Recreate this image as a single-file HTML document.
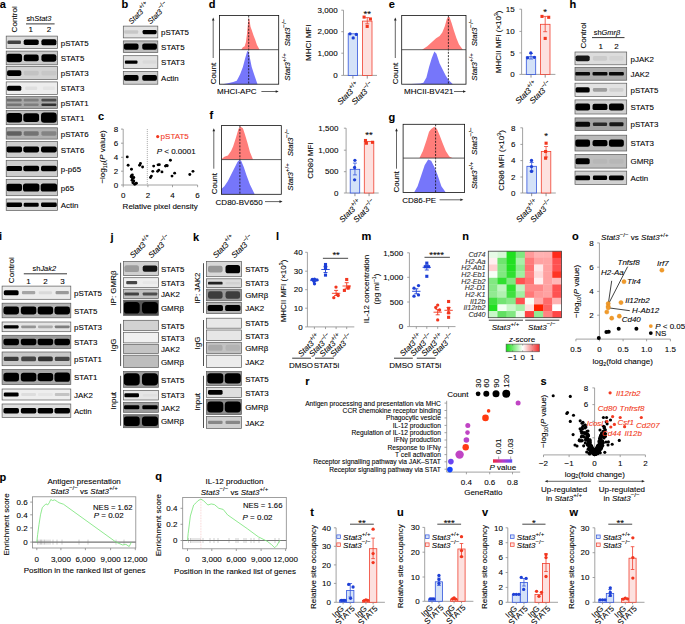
<!DOCTYPE html>
<html><head><meta charset="utf-8"><style>
html,body{margin:0;padding:0;background:#fff;width:685px;height:624px;overflow:hidden}
svg{display:block;font-family:"Liberation Sans",sans-serif}
</style></head><body>
<svg width="685" height="624" viewBox="0 0 685 624">
<defs><filter id="bl" x="-20%" y="-50%" width="140%" height="200%"><feGaussianBlur stdDeviation="0.75"/></filter>
<filter id="bl2" x="-20%" y="-50%" width="140%" height="200%"><feGaussianBlur stdDeviation="0.5"/></filter><clipPath id="c1"><rect x="6.20" y="36.10" width="51.40" height="12.40"/></clipPath><clipPath id="c2"><rect x="6.20" y="51.10" width="51.40" height="13.70"/></clipPath><clipPath id="c3"><rect x="6.20" y="66.60" width="51.40" height="13.00"/></clipPath><clipPath id="c4"><rect x="6.20" y="81.90" width="51.40" height="12.70"/></clipPath><clipPath id="c5"><rect x="6.20" y="96.60" width="51.40" height="11.90"/></clipPath><clipPath id="c6"><rect x="6.20" y="110.60" width="51.40" height="14.10"/></clipPath><clipPath id="c7"><rect x="6.20" y="127.80" width="51.40" height="11.30"/></clipPath><clipPath id="c8"><rect x="6.20" y="141.40" width="51.40" height="16.20"/></clipPath><clipPath id="c9"><rect x="6.20" y="160.30" width="51.40" height="16.40"/></clipPath><clipPath id="c10"><rect x="6.20" y="179.30" width="51.40" height="16.40"/></clipPath><clipPath id="c11"><rect x="6.20" y="199.00" width="51.40" height="11.50"/></clipPath><clipPath id="c12"><rect x="123.30" y="26.10" width="34.50" height="11.80"/></clipPath><clipPath id="c13"><rect x="123.30" y="40.90" width="34.50" height="11.60"/></clipPath><clipPath id="c14"><rect x="123.30" y="55.70" width="34.50" height="12.70"/></clipPath><clipPath id="c15"><rect x="123.30" y="71.40" width="34.50" height="12.80"/></clipPath><clipPath id="c16"><rect x="575.00" y="52.00" width="51.70" height="12.80"/></clipPath><clipPath id="c17"><rect x="575.00" y="67.30" width="51.70" height="12.90"/></clipPath><clipPath id="c18"><rect x="575.00" y="83.20" width="51.70" height="13.40"/></clipPath><clipPath id="c19"><rect x="575.00" y="99.90" width="51.70" height="14.10"/></clipPath><clipPath id="c20"><rect x="575.00" y="117.90" width="51.70" height="12.70"/></clipPath><clipPath id="c21"><rect x="575.00" y="135.20" width="51.70" height="15.80"/></clipPath><clipPath id="c22"><rect x="575.00" y="154.40" width="51.70" height="13.70"/></clipPath><clipPath id="c23"><rect x="575.00" y="171.10" width="51.70" height="13.40"/></clipPath><clipPath id="c24"><rect x="2.10" y="286.10" width="68.70" height="13.20"/></clipPath><clipPath id="c25"><rect x="2.10" y="303.20" width="68.70" height="14.60"/></clipPath><clipPath id="c26"><rect x="2.10" y="322.00" width="68.70" height="9.70"/></clipPath><clipPath id="c27"><rect x="2.10" y="335.30" width="68.70" height="13.20"/></clipPath><clipPath id="c28"><rect x="2.10" y="352.00" width="68.70" height="13.70"/></clipPath><clipPath id="c29"><rect x="2.10" y="369.60" width="68.70" height="15.00"/></clipPath><clipPath id="c30"><rect x="2.10" y="389.00" width="68.70" height="11.00"/></clipPath><clipPath id="c31"><rect x="2.10" y="404.00" width="68.70" height="13.60"/></clipPath><clipPath id="c32"><rect x="123.50" y="261.60" width="34.90" height="14.00"/></clipPath><clipPath id="c33"><rect x="123.50" y="277.70" width="34.90" height="9.90"/></clipPath><clipPath id="c34"><rect x="123.50" y="289.20" width="34.90" height="9.40"/></clipPath><clipPath id="c35"><rect x="123.50" y="300.20" width="34.90" height="15.20"/></clipPath><clipPath id="c36"><rect x="123.50" y="320.30" width="34.90" height="10.20"/></clipPath><clipPath id="c37"><rect x="123.50" y="332.30" width="34.90" height="10.60"/></clipPath><clipPath id="c38"><rect x="123.50" y="344.60" width="34.90" height="8.80"/></clipPath><clipPath id="c39"><rect x="123.50" y="355.20" width="34.90" height="12.30"/></clipPath><clipPath id="c40"><rect x="123.50" y="371.40" width="34.90" height="15.90"/></clipPath><clipPath id="c41"><rect x="123.50" y="390.40" width="34.90" height="9.60"/></clipPath><clipPath id="c42"><rect x="123.50" y="402.30" width="34.90" height="10.00"/></clipPath><clipPath id="c43"><rect x="123.50" y="414.70" width="34.90" height="13.00"/></clipPath><clipPath id="c44"><rect x="206.40" y="261.60" width="35.00" height="15.10"/></clipPath><clipPath id="c45"><rect x="206.40" y="278.80" width="35.00" height="8.80"/></clipPath><clipPath id="c46"><rect x="206.40" y="289.20" width="35.00" height="11.60"/></clipPath><clipPath id="c47"><rect x="206.40" y="302.40" width="35.00" height="11.20"/></clipPath><clipPath id="c48"><rect x="206.40" y="318.20" width="35.00" height="10.00"/></clipPath><clipPath id="c49"><rect x="206.40" y="330.00" width="35.00" height="10.60"/></clipPath><clipPath id="c50"><rect x="206.40" y="342.30" width="35.00" height="11.10"/></clipPath><clipPath id="c51"><rect x="206.40" y="355.20" width="35.00" height="12.30"/></clipPath><clipPath id="c52"><rect x="206.40" y="371.40" width="35.00" height="14.10"/></clipPath><clipPath id="c53"><rect x="206.40" y="387.30" width="35.00" height="10.20"/></clipPath><clipPath id="c54"><rect x="206.40" y="399.30" width="35.00" height="15.30"/></clipPath><clipPath id="c55"><rect x="206.40" y="416.40" width="35.00" height="12.10"/></clipPath><linearGradient id="zg"><stop offset="0" stop-color="#12dd12"/><stop offset="0.5" stop-color="#ffffff"/><stop offset="1" stop-color="#f02a2a"/></linearGradient><linearGradient id="pg"><stop offset="0" stop-color="#f02838"/><stop offset="0.5" stop-color="#b838c8"/><stop offset="1" stop-color="#5a50f8"/></linearGradient></defs>
<text x="-0.30" y="7.80" font-size="11" font-weight="bold" fill="#000" stroke="#000" stroke-width="0.1">a</text><text x="17.10" y="32.40" font-size="8.1" stroke="#1a1a1a" stroke-width="0.1" transform="rotate(-90 17.10 32.40)">Control</text><text x="26.40" y="20.80" font-size="7.4" stroke="#1a1a1a" stroke-width="0.1">sh<tspan font-style="italic">Stat3</tspan></text><line x1="26.00" y1="23.90" x2="54.60" y2="23.90" stroke="#222" stroke-width="0.9" /><text x="30.80" y="32.10" font-size="8.0" text-anchor="middle" stroke="#1a1a1a" stroke-width="0.1">1</text><text x="49.00" y="32.10" font-size="8.0" text-anchor="middle" stroke="#1a1a1a" stroke-width="0.1">2</text><rect x="6.20" y="36.10" width="51.40" height="12.40" fill="#dcdcdc" /><g clip-path="url(#c1)" filter="url(#bl)"><rect x="7.45" y="40.51" width="13.50" height="3.57" rx="1.12" fill="#000" fill-opacity="0.70"/><rect x="23.70" y="39.51" width="15.00" height="5.58" rx="1.74" fill="#000" fill-opacity="1.00"/><rect x="41.40" y="39.23" width="15.00" height="6.14" rx="1.92" fill="#000" fill-opacity="1.00"/></g><rect x="6.20" y="36.10" width="51.40" height="12.40" fill="none" stroke="#5a5a5a" stroke-width="0.7" /><text x="60.80" y="45.50" font-size="7.95" stroke="#1a1a1a" stroke-width="0.1">pSTAT5</text><rect x="6.20" y="51.10" width="51.40" height="13.70" fill="#c8c8c8" /><g clip-path="url(#c2)" filter="url(#bl)"><rect x="6.32" y="53.76" width="15.75" height="8.38" rx="2.62" fill="#000" fill-opacity="1.00"/><rect x="23.70" y="54.56" width="15.00" height="6.78" rx="2.12" fill="#000" fill-opacity="1.00"/><rect x="41.40" y="54.25" width="15.00" height="7.40" rx="2.31" fill="#000" fill-opacity="1.00"/></g><rect x="6.20" y="51.10" width="51.40" height="13.70" fill="none" stroke="#5a5a5a" stroke-width="0.7" /><text x="60.80" y="61.15" font-size="7.95" stroke="#1a1a1a" stroke-width="0.1">STAT5</text><rect x="6.20" y="66.60" width="51.40" height="13.00" fill="#d2d2d2" /><g clip-path="url(#c3)" filter="url(#bl)"><rect x="7.07" y="70.17" width="14.25" height="5.85" rx="1.83" fill="#000" fill-opacity="1.00"/><rect x="23.70" y="70.76" width="15.00" height="4.68" rx="1.46" fill="#000" fill-opacity="0.07"/><rect x="41.40" y="70.76" width="15.00" height="4.68" rx="1.46" fill="#000" fill-opacity="0.05"/></g><rect x="6.20" y="66.60" width="51.40" height="13.00" fill="none" stroke="#5a5a5a" stroke-width="0.7" /><text x="60.80" y="76.30" font-size="7.95" stroke="#1a1a1a" stroke-width="0.1">pSTAT3</text><rect x="6.20" y="81.90" width="51.40" height="12.70" fill="#ededed" /><g clip-path="url(#c4)" filter="url(#bl)"><rect x="7.07" y="85.68" width="14.25" height="5.14" rx="1.61" fill="#000" fill-opacity="1.00"/><rect x="25.20" y="86.54" width="12.00" height="3.43" rx="1.07" fill="#000" fill-opacity="0.06"/><rect x="42.90" y="86.54" width="12.00" height="3.43" rx="1.07" fill="#000" fill-opacity="0.04"/></g><rect x="6.20" y="81.90" width="51.40" height="12.70" fill="none" stroke="#5a5a5a" stroke-width="0.7" /><text x="60.80" y="91.45" font-size="7.95" stroke="#1a1a1a" stroke-width="0.1">STAT3</text><rect x="6.20" y="96.60" width="51.40" height="11.90" fill="#a8a8a8" /><g clip-path="url(#c5)" filter="url(#bl)"><rect x="6.70" y="98.86" width="15.00" height="2.62" rx="1" fill="#000" fill-opacity="0.35"/><rect x="23.70" y="98.86" width="15.00" height="2.62" rx="1" fill="#000" fill-opacity="0.25"/><rect x="41.40" y="98.86" width="15.00" height="2.62" rx="1" fill="#000" fill-opacity="0.55"/><rect x="6.70" y="103.38" width="15.00" height="2.62" rx="1" fill="#000" fill-opacity="0.30"/><rect x="23.70" y="103.38" width="15.00" height="2.62" rx="1" fill="#000" fill-opacity="0.25"/><rect x="41.40" y="103.38" width="15.00" height="2.62" rx="1" fill="#000" fill-opacity="0.70"/></g><rect x="6.20" y="96.60" width="51.40" height="11.90" fill="none" stroke="#5a5a5a" stroke-width="0.7" /><text x="60.80" y="105.75" font-size="7.95" stroke="#1a1a1a" stroke-width="0.1">pSTAT1</text><rect x="6.20" y="110.60" width="51.40" height="14.10" fill="#bdbdbd" /><g clip-path="url(#c6)" filter="url(#bl)"><rect x="6.32" y="112.89" width="15.75" height="9.52" rx="2.97" fill="#000" fill-opacity="1.00"/><rect x="23.32" y="113.21" width="15.75" height="8.88" rx="2.78" fill="#000" fill-opacity="1.00"/><rect x="41.02" y="112.57" width="15.75" height="10.15" rx="3.17" fill="#000" fill-opacity="1.00"/></g><rect x="6.20" y="110.60" width="51.40" height="14.10" fill="none" stroke="#5a5a5a" stroke-width="0.7" /><text x="60.80" y="120.85" font-size="7.95" stroke="#1a1a1a" stroke-width="0.1">STAT1</text><rect x="6.20" y="127.80" width="51.40" height="11.30" fill="#b0b0b0" /><g clip-path="url(#c7)" filter="url(#bl)"><rect x="6.70" y="131.16" width="15.00" height="4.58" rx="1.43" fill="#000" fill-opacity="0.45"/><rect x="23.70" y="131.16" width="15.00" height="4.58" rx="1.43" fill="#000" fill-opacity="0.35"/><rect x="41.40" y="131.16" width="15.00" height="4.58" rx="1.43" fill="#000" fill-opacity="0.25"/></g><rect x="6.20" y="127.80" width="51.40" height="11.30" fill="none" stroke="#5a5a5a" stroke-width="0.7" /><text x="60.80" y="136.65" font-size="7.95" stroke="#1a1a1a" stroke-width="0.1">pSTAT6</text><rect x="6.20" y="141.40" width="51.40" height="16.20" fill="#cdcdcd" /><g clip-path="url(#c8)" filter="url(#bl)"><rect x="6.32" y="146.58" width="15.75" height="5.83" rx="1.82" fill="#000" fill-opacity="1.00"/><rect x="23.32" y="146.58" width="15.75" height="5.83" rx="1.82" fill="#000" fill-opacity="1.00"/><rect x="41.02" y="146.58" width="15.75" height="5.83" rx="1.82" fill="#000" fill-opacity="1.00"/></g><rect x="6.20" y="141.40" width="51.40" height="16.20" fill="none" stroke="#5a5a5a" stroke-width="0.7" /><text x="60.80" y="152.70" font-size="7.95" stroke="#1a1a1a" stroke-width="0.1">STAT6</text><rect x="6.20" y="160.30" width="51.40" height="16.40" fill="#cdcdcd" /><g clip-path="url(#c9)" filter="url(#bl)"><rect x="6.32" y="165.92" width="15.75" height="5.17" rx="1.61" fill="#000" fill-opacity="1.00"/><rect x="23.32" y="165.70" width="15.75" height="5.61" rx="1.75" fill="#000" fill-opacity="1.00"/><rect x="41.02" y="165.84" width="15.75" height="5.31" rx="1.66" fill="#000" fill-opacity="1.00"/></g><rect x="6.20" y="160.30" width="51.40" height="16.40" fill="none" stroke="#5a5a5a" stroke-width="0.7" /><text x="60.80" y="171.70" font-size="7.95" stroke="#1a1a1a" stroke-width="0.1">p-p65</text><rect x="6.20" y="179.30" width="51.40" height="16.40" fill="#c8c8c8" /><g clip-path="url(#c10)" filter="url(#bl)"><rect x="6.32" y="183.81" width="15.75" height="7.38" rx="2.31" fill="#000" fill-opacity="1.00"/><rect x="22.95" y="183.44" width="16.50" height="8.12" rx="2.54" fill="#000" fill-opacity="1.00"/><rect x="40.65" y="183.44" width="16.50" height="8.12" rx="2.54" fill="#000" fill-opacity="1.00"/></g><rect x="6.20" y="179.30" width="51.40" height="16.40" fill="none" stroke="#5a5a5a" stroke-width="0.7" /><text x="60.80" y="190.70" font-size="7.95" stroke="#1a1a1a" stroke-width="0.1">p65</text><rect x="6.20" y="199.00" width="51.40" height="11.50" fill="#d4d4d4" /><g clip-path="url(#c11)" filter="url(#bl)"><rect x="6.32" y="202.42" width="15.75" height="4.66" rx="1.46" fill="#000" fill-opacity="1.00"/><rect x="23.70" y="202.68" width="15.00" height="4.14" rx="1.29" fill="#000" fill-opacity="1.00"/><rect x="41.02" y="202.58" width="15.75" height="4.35" rx="1.36" fill="#000" fill-opacity="1.00"/></g><rect x="6.20" y="199.00" width="51.40" height="11.50" fill="none" stroke="#5a5a5a" stroke-width="0.7" /><text x="60.80" y="207.95" font-size="7.95" stroke="#1a1a1a" stroke-width="0.1">Actin</text><text x="121.60" y="8.20" font-size="11" font-weight="bold" fill="#000" stroke="#000" stroke-width="0.1">b</text><text x="131.50" y="24.50" font-size="7.4" stroke="#1a1a1a" stroke-width="0.1" transform="rotate(-45 131.50 24.50)"><tspan font-style="italic">Stat3</tspan><tspan font-size="6.08" dy="-3.84">+/+</tspan><tspan dy="3.84"> </tspan></text><text x="150.50" y="24.50" font-size="7.4" stroke="#1a1a1a" stroke-width="0.1" transform="rotate(-45 150.50 24.50)"><tspan font-style="italic">Stat3</tspan><tspan font-size="6.08" dy="-3.84">−/−</tspan><tspan dy="3.84"> </tspan></text><rect x="123.30" y="26.10" width="34.50" height="11.80" fill="#e2e2e2" /><g clip-path="url(#c12)" filter="url(#bl)"><rect x="124.20" y="30.14" width="14.00" height="3.72" rx="1.16" fill="#000" fill-opacity="0.12"/><rect x="142.60" y="29.88" width="14.00" height="4.25" rx="1.33" fill="#000" fill-opacity="1.00"/></g><rect x="123.30" y="26.10" width="34.50" height="11.80" fill="none" stroke="#5a5a5a" stroke-width="0.7" /><text x="161.10" y="35.20" font-size="7.95" stroke="#1a1a1a" stroke-width="0.1">pSTAT5</text><rect x="123.30" y="40.90" width="34.50" height="11.60" fill="#bdbdbd" /><g clip-path="url(#c13)" filter="url(#bl)"><rect x="123.85" y="43.57" width="14.70" height="6.26" rx="1.96" fill="#000" fill-opacity="1.00"/><rect x="142.25" y="43.57" width="14.70" height="6.26" rx="1.96" fill="#000" fill-opacity="1.00"/></g><rect x="123.30" y="40.90" width="34.50" height="11.60" fill="none" stroke="#5a5a5a" stroke-width="0.7" /><text x="161.10" y="49.90" font-size="7.95" stroke="#1a1a1a" stroke-width="0.1">STAT5</text><rect x="123.30" y="55.70" width="34.50" height="12.70" fill="#e2e2e2" /><g clip-path="url(#c14)" filter="url(#bl)"><rect x="124.90" y="60.45" width="12.60" height="3.20" rx="1.00" fill="#000" fill-opacity="1.00"/><rect x="142.60" y="60.34" width="14.00" height="3.43" rx="1.07" fill="#000" fill-opacity="0.04"/></g><rect x="123.30" y="55.70" width="34.50" height="12.70" fill="none" stroke="#5a5a5a" stroke-width="0.7" /><text x="161.10" y="65.25" font-size="7.95" stroke="#1a1a1a" stroke-width="0.1">STAT3</text><rect x="123.30" y="71.40" width="34.50" height="12.80" fill="#cfcfcf" /><g clip-path="url(#c15)" filter="url(#bl)"><rect x="123.85" y="74.92" width="14.70" height="5.76" rx="1.80" fill="#000" fill-opacity="1.00"/><rect x="142.25" y="74.92" width="14.70" height="5.76" rx="1.80" fill="#000" fill-opacity="1.00"/></g><rect x="123.30" y="71.40" width="34.50" height="12.80" fill="none" stroke="#5a5a5a" stroke-width="0.7" /><text x="161.10" y="81.00" font-size="7.95" stroke="#1a1a1a" stroke-width="0.1">Actin</text><text x="569.40" y="8.20" font-size="11" font-weight="bold" fill="#000" stroke="#000" stroke-width="0.1">h</text><text x="585.70" y="48.60" font-size="8.1" stroke="#1a1a1a" stroke-width="0.1" transform="rotate(-90 585.70 48.60)">Control</text><text x="593.80" y="34.80" font-size="7.4" stroke="#1a1a1a" stroke-width="0.1">sh<tspan font-style="italic">Gmrβ</tspan></text><line x1="592.00" y1="37.60" x2="624.50" y2="37.60" stroke="#222" stroke-width="0.9" /><text x="600.80" y="49.00" font-size="8.0" text-anchor="middle" stroke="#1a1a1a" stroke-width="0.1">1</text><text x="616.60" y="49.00" font-size="8.0" text-anchor="middle" stroke="#1a1a1a" stroke-width="0.1">2</text><rect x="575.00" y="52.00" width="51.70" height="12.80" fill="#dcdcdc" /><g clip-path="url(#c16)" filter="url(#bl)"><rect x="575.50" y="55.52" width="14.20" height="5.76" rx="1.80" fill="#000" fill-opacity="0.90"/><rect x="592.90" y="56.10" width="14.20" height="4.61" rx="1.44" fill="#000" fill-opacity="0.08"/><rect x="609.30" y="56.10" width="14.20" height="4.61" rx="1.44" fill="#000" fill-opacity="0.04"/></g><rect x="575.00" y="52.00" width="51.70" height="12.80" fill="none" stroke="#5a5a5a" stroke-width="0.7" /><text x="630.50" y="61.60" font-size="7.95" stroke="#1a1a1a" stroke-width="0.1">pJAK2</text><rect x="575.00" y="67.30" width="51.70" height="12.90" fill="#acacac" /><g clip-path="url(#c17)" filter="url(#bl)"><rect x="575.14" y="72.01" width="14.91" height="3.48" rx="1.09" fill="#000" fill-opacity="0.95"/><rect x="592.54" y="72.01" width="14.91" height="3.48" rx="1.09" fill="#000" fill-opacity="0.95"/><rect x="608.94" y="72.01" width="14.91" height="3.48" rx="1.09" fill="#000" fill-opacity="0.95"/></g><rect x="575.00" y="67.30" width="51.70" height="12.90" fill="none" stroke="#5a5a5a" stroke-width="0.7" /><text x="630.50" y="76.95" font-size="7.95" stroke="#1a1a1a" stroke-width="0.1">JAK2</text><rect x="575.00" y="83.20" width="51.70" height="13.40" fill="#e2e2e2" /><g clip-path="url(#c18)" filter="url(#bl)"><rect x="575.50" y="87.19" width="14.20" height="5.43" rx="1.70" fill="#000" fill-opacity="1.00"/><rect x="592.90" y="88.09" width="14.20" height="3.62" rx="1.13" fill="#000" fill-opacity="0.30"/><rect x="609.30" y="88.09" width="14.20" height="3.62" rx="1.13" fill="#000" fill-opacity="0.08"/></g><rect x="575.00" y="83.20" width="51.70" height="13.40" fill="none" stroke="#5a5a5a" stroke-width="0.7" /><text x="630.50" y="93.10" font-size="7.95" stroke="#1a1a1a" stroke-width="0.1">pSTAT5</text><rect x="575.00" y="99.90" width="51.70" height="14.10" fill="#cfcfcf" /><g clip-path="url(#c19)" filter="url(#bl)"><rect x="575.14" y="103.46" width="14.91" height="6.98" rx="2.18" fill="#000" fill-opacity="1.00"/><rect x="592.54" y="103.78" width="14.91" height="6.34" rx="1.98" fill="#000" fill-opacity="1.00"/><rect x="608.94" y="103.46" width="14.91" height="6.98" rx="2.18" fill="#000" fill-opacity="1.00"/></g><rect x="575.00" y="99.90" width="51.70" height="14.10" fill="none" stroke="#5a5a5a" stroke-width="0.7" /><text x="630.50" y="110.15" font-size="7.95" stroke="#1a1a1a" stroke-width="0.1">STAT5</text><rect x="575.00" y="117.90" width="51.70" height="12.70" fill="#a4a4a4" /><g clip-path="url(#c20)" filter="url(#bl)"><rect x="575.14" y="121.68" width="14.91" height="5.14" rx="1.61" fill="#000" fill-opacity="0.95"/><rect x="592.90" y="122.54" width="14.20" height="3.43" rx="1.07" fill="#000" fill-opacity="0.75"/><rect x="609.30" y="122.25" width="14.20" height="4.00" rx="1.25" fill="#000" fill-opacity="0.85"/></g><rect x="575.00" y="117.90" width="51.70" height="12.70" fill="none" stroke="#5a5a5a" stroke-width="0.7" /><text x="630.50" y="127.45" font-size="7.95" stroke="#1a1a1a" stroke-width="0.1">pSTAT3</text><rect x="575.00" y="135.20" width="51.70" height="15.80" fill="#bababa" /><g clip-path="url(#c21)" filter="url(#bl)"><rect x="575.14" y="139.54" width="14.91" height="7.11" rx="2.22" fill="#000" fill-opacity="1.00"/><rect x="592.54" y="139.90" width="14.91" height="6.40" rx="2.00" fill="#000" fill-opacity="1.00"/><rect x="608.94" y="139.54" width="14.91" height="7.11" rx="2.22" fill="#000" fill-opacity="1.00"/></g><rect x="575.00" y="135.20" width="51.70" height="15.80" fill="none" stroke="#5a5a5a" stroke-width="0.7" /><text x="630.50" y="146.30" font-size="7.95" stroke="#1a1a1a" stroke-width="0.1">STAT3</text><rect x="575.00" y="154.40" width="51.70" height="13.70" fill="#bebebe" /><g clip-path="url(#c22)" filter="url(#bl)"><rect x="575.50" y="158.17" width="14.20" height="6.16" rx="1.93" fill="#000" fill-opacity="1.00"/><rect x="592.90" y="158.78" width="14.20" height="4.93" rx="1.54" fill="#000" fill-opacity="0.04"/><rect x="609.30" y="158.78" width="14.20" height="4.93" rx="1.54" fill="#000" fill-opacity="0.04"/></g><rect x="575.00" y="154.40" width="51.70" height="13.70" fill="none" stroke="#5a5a5a" stroke-width="0.7" /><text x="630.50" y="164.45" font-size="7.95" stroke="#1a1a1a" stroke-width="0.1">GMRβ</text><rect x="575.00" y="171.10" width="51.70" height="13.40" fill="#d0d0d0" /><g clip-path="url(#c23)" filter="url(#bl)"><rect x="575.14" y="175.39" width="14.91" height="4.82" rx="1.51" fill="#000" fill-opacity="1.00"/><rect x="592.90" y="175.51" width="14.20" height="4.58" rx="1.43" fill="#000" fill-opacity="1.00"/><rect x="608.94" y="175.39" width="14.91" height="4.82" rx="1.51" fill="#000" fill-opacity="1.00"/></g><rect x="575.00" y="171.10" width="51.70" height="13.40" fill="none" stroke="#5a5a5a" stroke-width="0.7" /><text x="630.50" y="181.00" font-size="7.95" stroke="#1a1a1a" stroke-width="0.1">Actin</text><text x="-1.00" y="240.00" font-size="11" font-weight="bold" fill="#000" stroke="#000" stroke-width="0.1">i</text><text x="13.70" y="283.20" font-size="8.1" stroke="#1a1a1a" stroke-width="0.1" transform="rotate(-90 13.70 283.20)">Control</text><text x="32.60" y="270.70" font-size="7.4" stroke="#1a1a1a" stroke-width="0.1">sh<tspan font-style="italic">Jak2</tspan></text><line x1="23.80" y1="273.80" x2="67.00" y2="273.80" stroke="#222" stroke-width="0.9" /><text x="28.50" y="283.50" font-size="8.0" text-anchor="middle" stroke="#1a1a1a" stroke-width="0.1">1</text><text x="45.50" y="283.50" font-size="8.0" text-anchor="middle" stroke="#1a1a1a" stroke-width="0.1">2</text><text x="62.60" y="283.50" font-size="8.0" text-anchor="middle" stroke="#1a1a1a" stroke-width="0.1">3</text><rect x="2.10" y="286.10" width="68.70" height="13.20" fill="#ececec" /><g clip-path="url(#c24)" filter="url(#bl)"><rect x="3.80" y="290.21" width="14.80" height="4.99" rx="1.56" fill="#000" fill-opacity="1.00"/><rect x="21.94" y="291.04" width="13.32" height="3.33" rx="1.04" fill="#000" fill-opacity="0.30"/><rect x="38.74" y="291.22" width="13.32" height="2.97" rx="0.93" fill="#000" fill-opacity="0.08"/><rect x="55.54" y="291.04" width="13.32" height="3.33" rx="1.04" fill="#000" fill-opacity="0.35"/></g><rect x="2.10" y="286.10" width="68.70" height="13.20" fill="none" stroke="#5a5a5a" stroke-width="0.7" /><text x="74.00" y="295.90" font-size="7.95" stroke="#1a1a1a" stroke-width="0.1">pSTAT5</text><rect x="2.10" y="303.20" width="68.70" height="14.60" fill="#b4b4b4" /><g clip-path="url(#c25)" filter="url(#bl)"><rect x="3.43" y="306.56" width="15.54" height="7.88" rx="2.46" fill="#000" fill-opacity="1.00"/><rect x="20.83" y="306.56" width="15.54" height="7.88" rx="2.46" fill="#000" fill-opacity="1.00"/><rect x="37.63" y="306.56" width="15.54" height="7.88" rx="2.46" fill="#000" fill-opacity="1.00"/><rect x="54.43" y="306.56" width="15.54" height="7.88" rx="2.46" fill="#000" fill-opacity="1.00"/></g><rect x="2.10" y="303.20" width="68.70" height="14.60" fill="none" stroke="#5a5a5a" stroke-width="0.7" /><text x="74.00" y="313.70" font-size="7.95" stroke="#1a1a1a" stroke-width="0.1">STAT5</text><rect x="2.10" y="322.00" width="68.70" height="9.70" fill="#e4e4e4" /><g clip-path="url(#c26)" filter="url(#bl)"><rect x="3.80" y="325.19" width="14.80" height="3.32" rx="1.04" fill="#000" fill-opacity="1.00"/><rect x="21.20" y="325.54" width="14.80" height="2.62" rx="0.82" fill="#000" fill-opacity="0.35"/><rect x="38.00" y="325.54" width="14.80" height="2.62" rx="0.82" fill="#000" fill-opacity="0.25"/><rect x="54.80" y="325.54" width="14.80" height="2.62" rx="0.82" fill="#000" fill-opacity="0.45"/></g><rect x="2.10" y="322.00" width="68.70" height="9.70" fill="none" stroke="#5a5a5a" stroke-width="0.7" /><text x="74.00" y="330.05" font-size="7.95" stroke="#1a1a1a" stroke-width="0.1">pSTAT3</text><rect x="2.10" y="335.30" width="68.70" height="13.20" fill="#9c9c9c" /><g clip-path="url(#c27)" filter="url(#bl)"><rect x="3.43" y="338.63" width="15.54" height="6.53" rx="2.04" fill="#000" fill-opacity="1.00"/><rect x="20.83" y="338.63" width="15.54" height="6.53" rx="2.04" fill="#000" fill-opacity="1.00"/><rect x="37.63" y="338.63" width="15.54" height="6.53" rx="2.04" fill="#000" fill-opacity="1.00"/><rect x="54.43" y="338.63" width="15.54" height="6.53" rx="2.04" fill="#000" fill-opacity="1.00"/></g><rect x="2.10" y="335.30" width="68.70" height="13.20" fill="none" stroke="#5a5a5a" stroke-width="0.7" /><text x="74.00" y="345.10" font-size="7.95" stroke="#1a1a1a" stroke-width="0.1">STAT3</text><rect x="2.10" y="352.00" width="68.70" height="13.70" fill="#c8c8c8" /><g clip-path="url(#c28)" filter="url(#bl)"><rect x="3.80" y="356.69" width="14.80" height="4.32" rx="1.35" fill="#000" fill-opacity="0.70"/><rect x="21.20" y="356.38" width="14.80" height="4.93" rx="1.54" fill="#000" fill-opacity="0.65"/><rect x="38.00" y="356.38" width="14.80" height="4.93" rx="1.54" fill="#000" fill-opacity="0.75"/><rect x="54.80" y="356.69" width="14.80" height="4.32" rx="1.35" fill="#000" fill-opacity="0.65"/></g><rect x="2.10" y="352.00" width="68.70" height="13.70" fill="none" stroke="#5a5a5a" stroke-width="0.7" /><text x="74.00" y="362.05" font-size="7.95" stroke="#1a1a1a" stroke-width="0.1">pSTAT1</text><rect x="2.10" y="369.60" width="68.70" height="15.00" fill="#a8a8a8" /><g clip-path="url(#c29)" filter="url(#bl)"><rect x="3.43" y="372.71" width="15.54" height="8.78" rx="2.74" fill="#000" fill-opacity="1.00"/><rect x="20.83" y="372.71" width="15.54" height="8.78" rx="2.74" fill="#000" fill-opacity="1.00"/><rect x="37.63" y="373.05" width="15.54" height="8.10" rx="2.53" fill="#000" fill-opacity="1.00"/><rect x="54.43" y="372.38" width="15.54" height="9.45" rx="2.95" fill="#000" fill-opacity="1.00"/></g><rect x="2.10" y="369.60" width="68.70" height="15.00" fill="none" stroke="#5a5a5a" stroke-width="0.7" /><text x="74.00" y="380.30" font-size="7.95" stroke="#1a1a1a" stroke-width="0.1">STAT1</text><rect x="2.10" y="389.00" width="68.70" height="11.00" fill="#eeeeee" /><g clip-path="url(#c30)" filter="url(#bl)"><rect x="3.80" y="392.42" width="14.80" height="4.16" rx="1.30" fill="#000" fill-opacity="1.00"/><rect x="21.20" y="393.01" width="14.80" height="2.97" rx="0.93" fill="#000" fill-opacity="0.07"/><rect x="38.00" y="393.01" width="14.80" height="2.97" rx="0.93" fill="#000" fill-opacity="0.04"/><rect x="54.80" y="393.01" width="14.80" height="2.97" rx="0.93" fill="#000" fill-opacity="0.18"/></g><rect x="2.10" y="389.00" width="68.70" height="11.00" fill="none" stroke="#5a5a5a" stroke-width="0.7" /><text x="74.00" y="397.70" font-size="7.95" stroke="#1a1a1a" stroke-width="0.1">JAK2</text><rect x="2.10" y="404.00" width="68.70" height="13.60" fill="#dedede" /><g clip-path="url(#c31)" filter="url(#bl)"><rect x="3.43" y="408.05" width="15.54" height="5.51" rx="1.72" fill="#000" fill-opacity="1.00"/><rect x="20.83" y="408.05" width="15.54" height="5.51" rx="1.72" fill="#000" fill-opacity="1.00"/><rect x="37.63" y="408.05" width="15.54" height="5.51" rx="1.72" fill="#000" fill-opacity="1.00"/><rect x="54.43" y="408.05" width="15.54" height="5.51" rx="1.72" fill="#000" fill-opacity="1.00"/></g><rect x="2.10" y="404.00" width="68.70" height="13.60" fill="none" stroke="#5a5a5a" stroke-width="0.7" /><text x="74.00" y="414.00" font-size="7.95" stroke="#1a1a1a" stroke-width="0.1">Actin</text><text x="110.60" y="240.60" font-size="11" font-weight="bold" fill="#000" stroke="#000" stroke-width="0.1">j</text><text x="133.00" y="258.50" font-size="8.0" stroke="#1a1a1a" stroke-width="0.1" transform="rotate(-45 133.00 258.50)"><tspan font-style="italic">Stat3</tspan><tspan font-size="6.08" dy="-3.84">+/+</tspan><tspan dy="3.84"> </tspan></text><text x="151.60" y="258.50" font-size="8.0" stroke="#1a1a1a" stroke-width="0.1" transform="rotate(-45 151.60 258.50)"><tspan font-style="italic">Stat3</tspan><tspan font-size="6.08" dy="-3.84">−/−</tspan><tspan dy="3.84"> </tspan></text><rect x="123.50" y="261.60" width="34.90" height="14.00" fill="#d0d0d0" /><g clip-path="url(#c32)" filter="url(#bl)"><rect x="124.40" y="265.14" width="14.60" height="6.93" rx="2.17" fill="#000" fill-opacity="0.25"/><rect x="142.70" y="265.45" width="14.60" height="6.30" rx="1.97" fill="#000" fill-opacity="0.90"/></g><rect x="123.50" y="261.60" width="34.90" height="14.00" fill="none" stroke="#5a5a5a" stroke-width="0.7" /><text x="160.90" y="271.80" font-size="7.95" stroke="#1a1a1a" stroke-width="0.1">STAT5</text><rect x="123.50" y="277.70" width="34.90" height="9.90" fill="#eeeeee" /><g clip-path="url(#c33)" filter="url(#bl)"><rect x="126.22" y="281.09" width="10.95" height="3.12" rx="0.97" fill="#000" fill-opacity="0.70"/><rect x="142.70" y="281.31" width="14.60" height="2.67" rx="0.84" fill="#000" fill-opacity="0.03"/></g><rect x="123.50" y="277.70" width="34.90" height="9.90" fill="none" stroke="#5a5a5a" stroke-width="0.7" /><text x="160.90" y="285.85" font-size="7.95" stroke="#1a1a1a" stroke-width="0.1">STAT3</text><rect x="123.50" y="289.20" width="34.90" height="9.40" fill="#c0c0c0" /><g clip-path="url(#c34)" filter="url(#bl)"><rect x="124.40" y="292.42" width="14.60" height="2.96" rx="0.93" fill="#000" fill-opacity="0.65"/><rect x="142.70" y="292.42" width="14.60" height="2.96" rx="0.93" fill="#000" fill-opacity="0.60"/></g><rect x="123.50" y="289.20" width="34.90" height="9.40" fill="none" stroke="#5a5a5a" stroke-width="0.7" /><text x="160.90" y="297.10" font-size="7.95" stroke="#1a1a1a" stroke-width="0.1">JAK2</text><rect x="123.50" y="300.20" width="34.90" height="15.20" fill="#555555" /><g clip-path="url(#c35)" filter="url(#bl)"><rect x="123.67" y="301.99" width="16.06" height="11.63" rx="3.63" fill="#000" fill-opacity="1.00"/><rect x="141.97" y="301.99" width="16.06" height="11.63" rx="3.63" fill="#000" fill-opacity="1.00"/></g><rect x="123.50" y="300.20" width="34.90" height="15.20" fill="none" stroke="#5a5a5a" stroke-width="0.7" /><text x="160.90" y="311.00" font-size="7.95" stroke="#1a1a1a" stroke-width="0.1">GMRβ</text><rect x="123.50" y="320.30" width="34.90" height="10.20" fill="#d2d2d2" /><g clip-path="url(#c36)" filter="url(#bl)"></g><rect x="123.50" y="320.30" width="34.90" height="10.20" fill="none" stroke="#5a5a5a" stroke-width="0.7" /><text x="160.90" y="328.60" font-size="7.95" stroke="#1a1a1a" stroke-width="0.1">STAT5</text><rect x="123.50" y="332.30" width="34.90" height="10.60" fill="#f0f0f0" /><g clip-path="url(#c37)" filter="url(#bl)"></g><rect x="123.50" y="332.30" width="34.90" height="10.60" fill="none" stroke="#5a5a5a" stroke-width="0.7" /><text x="160.90" y="340.80" font-size="7.95" stroke="#1a1a1a" stroke-width="0.1">STAT3</text><rect x="123.50" y="344.60" width="34.90" height="8.80" fill="#c4c4c4" /><g clip-path="url(#c38)" filter="url(#bl)"></g><rect x="123.50" y="344.60" width="34.90" height="8.80" fill="none" stroke="#5a5a5a" stroke-width="0.7" /><text x="160.90" y="352.20" font-size="7.95" stroke="#1a1a1a" stroke-width="0.1">JAK2</text><rect x="123.50" y="355.20" width="34.90" height="12.30" fill="#bdbdbd" /><g clip-path="url(#c39)" filter="url(#bl)"></g><rect x="123.50" y="355.20" width="34.90" height="12.30" fill="none" stroke="#5a5a5a" stroke-width="0.7" /><text x="160.90" y="364.55" font-size="7.95" stroke="#1a1a1a" stroke-width="0.1">GMRβ</text><rect x="123.50" y="371.40" width="34.90" height="15.90" fill="#9a9a9a" /><g clip-path="url(#c40)" filter="url(#bl)"><rect x="123.67" y="373.27" width="16.06" height="12.16" rx="3.80" fill="#000" fill-opacity="1.00"/><rect x="141.97" y="373.27" width="16.06" height="12.16" rx="3.80" fill="#000" fill-opacity="1.00"/></g><rect x="123.50" y="371.40" width="34.90" height="15.90" fill="none" stroke="#5a5a5a" stroke-width="0.7" /><text x="160.90" y="382.55" font-size="7.95" stroke="#1a1a1a" stroke-width="0.1">STAT5</text><rect x="123.50" y="390.40" width="34.90" height="9.60" fill="#e6e6e6" /><g clip-path="url(#c41)" filter="url(#bl)"><rect x="124.40" y="393.26" width="14.60" height="3.89" rx="1.22" fill="#000" fill-opacity="1.00"/><rect x="142.70" y="393.90" width="14.60" height="2.59" rx="0.81" fill="#000" fill-opacity="0.03"/></g><rect x="123.50" y="390.40" width="34.90" height="9.60" fill="none" stroke="#5a5a5a" stroke-width="0.7" /><text x="160.90" y="398.40" font-size="7.95" stroke="#1a1a1a" stroke-width="0.1">STAT3</text><rect x="123.50" y="402.30" width="34.90" height="10.00" fill="#9c9c9c" /><g clip-path="url(#c42)" filter="url(#bl)"><rect x="124.03" y="405.28" width="15.33" height="4.05" rx="1.27" fill="#000" fill-opacity="1.00"/><rect x="142.34" y="405.28" width="15.33" height="4.05" rx="1.27" fill="#000" fill-opacity="1.00"/></g><rect x="123.50" y="402.30" width="34.90" height="10.00" fill="none" stroke="#5a5a5a" stroke-width="0.7" /><text x="160.90" y="410.50" font-size="7.95" stroke="#1a1a1a" stroke-width="0.1">JAK2</text><rect x="123.50" y="414.70" width="34.90" height="13.00" fill="#7a7a7a" /><g clip-path="url(#c43)" filter="url(#bl)"><rect x="123.67" y="416.52" width="16.06" height="9.36" rx="2.93" fill="#000" fill-opacity="1.00"/><rect x="141.97" y="416.52" width="16.06" height="9.36" rx="2.93" fill="#000" fill-opacity="1.00"/></g><rect x="123.50" y="414.70" width="34.90" height="13.00" fill="none" stroke="#5a5a5a" stroke-width="0.7" /><text x="160.90" y="424.40" font-size="7.95" stroke="#1a1a1a" stroke-width="0.1">GMRβ</text><line x1="120.60" y1="262.70" x2="120.60" y2="313.30" stroke="#222" stroke-width="0.8" /><text x="116.40" y="288.00" font-size="8.0" text-anchor="middle" stroke="#1a1a1a" stroke-width="0.1" transform="rotate(-90 116.40 288.00)">IP: GMRβ</text><line x1="120.60" y1="323.80" x2="120.60" y2="366.10" stroke="#222" stroke-width="0.8" /><text x="116.40" y="344.95" font-size="8.0" text-anchor="middle" stroke="#1a1a1a" stroke-width="0.1" transform="rotate(-90 116.40 344.95)">IgG</text><line x1="120.60" y1="375.80" x2="120.60" y2="425.80" stroke="#222" stroke-width="0.8" /><text x="116.40" y="400.80" font-size="8.0" text-anchor="middle" stroke="#1a1a1a" stroke-width="0.1" transform="rotate(-90 116.40 400.80)">Input</text><text x="193.00" y="240.60" font-size="11" font-weight="bold" fill="#000" stroke="#000" stroke-width="0.1">k</text><text x="216.00" y="258.50" font-size="8.0" stroke="#1a1a1a" stroke-width="0.1" transform="rotate(-45 216.00 258.50)"><tspan font-style="italic">Stat3</tspan><tspan font-size="6.08" dy="-3.84">+/+</tspan><tspan dy="3.84"> </tspan></text><text x="234.60" y="258.50" font-size="8.0" stroke="#1a1a1a" stroke-width="0.1" transform="rotate(-45 234.60 258.50)"><tspan font-style="italic">Stat3</tspan><tspan font-size="6.08" dy="-3.84">−/−</tspan><tspan dy="3.84"> </tspan></text><rect x="206.40" y="261.60" width="35.00" height="15.10" fill="#d8d8d8" /><g clip-path="url(#c44)" filter="url(#bl)"><rect x="208.00" y="265.75" width="14.60" height="6.79" rx="2.12" fill="#000" fill-opacity="0.30"/><rect x="225.50" y="264.94" width="14.60" height="8.43" rx="2.63" fill="#000" fill-opacity="1.00"/></g><rect x="206.40" y="261.60" width="35.00" height="15.10" fill="none" stroke="#5a5a5a" stroke-width="0.7" /><text x="245.20" y="272.35" font-size="7.95" stroke="#1a1a1a" stroke-width="0.1">STAT5</text><rect x="206.40" y="278.80" width="35.00" height="8.80" fill="#dcdcdc" /><g clip-path="url(#c45)" filter="url(#bl)"><rect x="208.00" y="281.81" width="14.60" height="2.77" rx="0.87" fill="#000" fill-opacity="0.85"/><rect x="225.50" y="282.01" width="14.60" height="2.38" rx="0.74" fill="#000" fill-opacity="0.05"/></g><rect x="206.40" y="278.80" width="35.00" height="8.80" fill="none" stroke="#5a5a5a" stroke-width="0.7" /><text x="245.20" y="286.40" font-size="7.95" stroke="#1a1a1a" stroke-width="0.1">STAT3</text><rect x="206.40" y="289.20" width="35.00" height="11.60" fill="#999999" /><g clip-path="url(#c46)" filter="url(#bl)"><rect x="208.00" y="291.35" width="14.60" height="7.31" rx="2.28" fill="#000" fill-opacity="0.60"/><rect x="225.50" y="291.35" width="14.60" height="7.31" rx="2.28" fill="#000" fill-opacity="0.60"/></g><rect x="206.40" y="289.20" width="35.00" height="11.60" fill="none" stroke="#5a5a5a" stroke-width="0.7" /><text x="245.20" y="298.20" font-size="7.95" stroke="#1a1a1a" stroke-width="0.1">GMRβ</text><rect x="206.40" y="302.40" width="35.00" height="11.20" fill="#b4b4b4" /><g clip-path="url(#c47)" filter="url(#bl)"><rect x="207.64" y="304.98" width="15.33" height="6.05" rx="1.89" fill="#000" fill-opacity="1.00"/><rect x="225.14" y="304.98" width="15.33" height="6.05" rx="1.89" fill="#000" fill-opacity="1.00"/></g><rect x="206.40" y="302.40" width="35.00" height="11.20" fill="none" stroke="#5a5a5a" stroke-width="0.7" /><text x="245.20" y="311.20" font-size="7.95" stroke="#1a1a1a" stroke-width="0.1">JAK2</text><rect x="206.40" y="318.20" width="35.00" height="10.00" fill="#e8e8e8" /><g clip-path="url(#c48)" filter="url(#bl)"></g><rect x="206.40" y="318.20" width="35.00" height="10.00" fill="none" stroke="#5a5a5a" stroke-width="0.7" /><text x="245.20" y="326.40" font-size="7.95" stroke="#1a1a1a" stroke-width="0.1">STAT5</text><rect x="206.40" y="330.00" width="35.00" height="10.60" fill="#e6e6e6" /><g clip-path="url(#c49)" filter="url(#bl)"></g><rect x="206.40" y="330.00" width="35.00" height="10.60" fill="none" stroke="#5a5a5a" stroke-width="0.7" /><text x="245.20" y="338.50" font-size="7.95" stroke="#1a1a1a" stroke-width="0.1">STAT3</text><rect x="206.40" y="342.30" width="35.00" height="11.10" fill="#c2c2c2" /><g clip-path="url(#c50)" filter="url(#bl)"><rect x="208.00" y="344.85" width="14.60" height="5.99" rx="1.87" fill="#000" fill-opacity="0.12"/><rect x="225.50" y="344.85" width="14.60" height="5.99" rx="1.87" fill="#000" fill-opacity="0.08"/></g><rect x="206.40" y="342.30" width="35.00" height="11.10" fill="none" stroke="#5a5a5a" stroke-width="0.7" /><text x="245.20" y="351.05" font-size="7.95" stroke="#1a1a1a" stroke-width="0.1">GMRβ</text><rect x="206.40" y="355.20" width="35.00" height="12.30" fill="#ececec" /><g clip-path="url(#c51)" filter="url(#bl)"></g><rect x="206.40" y="355.20" width="35.00" height="12.30" fill="none" stroke="#5a5a5a" stroke-width="0.7" /><text x="245.20" y="364.55" font-size="7.95" stroke="#1a1a1a" stroke-width="0.1">JAK2</text><rect x="206.40" y="371.40" width="35.00" height="14.10" fill="#9a9a9a" /><g clip-path="url(#c52)" filter="url(#bl)"><rect x="207.27" y="373.37" width="16.06" height="10.15" rx="3.17" fill="#000" fill-opacity="1.00"/><rect x="224.77" y="373.37" width="16.06" height="10.15" rx="3.17" fill="#000" fill-opacity="1.00"/></g><rect x="206.40" y="371.40" width="35.00" height="14.10" fill="none" stroke="#5a5a5a" stroke-width="0.7" /><text x="245.20" y="381.65" font-size="7.95" stroke="#1a1a1a" stroke-width="0.1">STAT5</text><rect x="206.40" y="387.30" width="35.00" height="10.20" fill="#dedede" /><g clip-path="url(#c53)" filter="url(#bl)"><rect x="208.00" y="390.10" width="14.60" height="4.59" rx="1.43" fill="#000" fill-opacity="1.00"/></g><rect x="206.40" y="387.30" width="35.00" height="10.20" fill="none" stroke="#5a5a5a" stroke-width="0.7" /><text x="245.20" y="395.60" font-size="7.95" stroke="#1a1a1a" stroke-width="0.1">STAT3</text><rect x="206.40" y="399.30" width="35.00" height="15.30" fill="#8a8a8a" /><g clip-path="url(#c54)" filter="url(#bl)"><rect x="207.27" y="401.44" width="16.06" height="11.02" rx="3.44" fill="#000" fill-opacity="1.00"/><rect x="224.77" y="401.44" width="16.06" height="11.02" rx="3.44" fill="#000" fill-opacity="1.00"/></g><rect x="206.40" y="399.30" width="35.00" height="15.30" fill="none" stroke="#5a5a5a" stroke-width="0.7" /><text x="245.20" y="410.15" font-size="7.95" stroke="#1a1a1a" stroke-width="0.1">GMRβ</text><rect x="206.40" y="416.40" width="35.00" height="12.10" fill="#d0d0d0" /><g clip-path="url(#c55)" filter="url(#bl)"><rect x="208.00" y="420.82" width="14.60" height="3.27" rx="1.02" fill="#000" fill-opacity="0.35"/><rect x="225.50" y="420.82" width="14.60" height="3.27" rx="1.02" fill="#000" fill-opacity="0.35"/></g><rect x="206.40" y="416.40" width="35.00" height="12.10" fill="none" stroke="#5a5a5a" stroke-width="0.7" /><text x="245.20" y="425.65" font-size="7.95" stroke="#1a1a1a" stroke-width="0.1">JAK2</text><line x1="203.50" y1="263.20" x2="203.50" y2="313.00" stroke="#222" stroke-width="0.8" /><text x="199.60" y="288.10" font-size="8.0" text-anchor="middle" stroke="#1a1a1a" stroke-width="0.1" transform="rotate(-90 199.60 288.10)">IP: JAK2</text><line x1="203.50" y1="320.00" x2="203.50" y2="366.00" stroke="#222" stroke-width="0.8" /><text x="199.60" y="343.00" font-size="8.0" text-anchor="middle" stroke="#1a1a1a" stroke-width="0.1" transform="rotate(-90 199.60 343.00)">IgG</text><line x1="203.50" y1="375.80" x2="203.50" y2="428.00" stroke="#222" stroke-width="0.8" /><text x="199.60" y="401.90" font-size="8.0" text-anchor="middle" stroke="#1a1a1a" stroke-width="0.1" transform="rotate(-90 199.60 401.90)">Input</text><text x="98.00" y="119.80" font-size="11" font-weight="bold" fill="#000" stroke="#000" stroke-width="0.1">c</text><line x1="123.20" y1="129.10" x2="123.20" y2="185.00" stroke="#8a8a8a" stroke-width="0.8" /><line x1="121.00" y1="129.10" x2="123.20" y2="129.10" stroke="#8a8a8a" stroke-width="0.8" /><text x="118.20" y="131.80" font-size="8.0" text-anchor="end" stroke="#1a1a1a" stroke-width="0.1">8</text><line x1="121.00" y1="143.20" x2="123.20" y2="143.20" stroke="#8a8a8a" stroke-width="0.8" /><text x="118.20" y="145.90" font-size="8.0" text-anchor="end" stroke="#1a1a1a" stroke-width="0.1">6</text><line x1="121.00" y1="157.30" x2="123.20" y2="157.30" stroke="#8a8a8a" stroke-width="0.8" /><text x="118.20" y="160.00" font-size="8.0" text-anchor="end" stroke="#1a1a1a" stroke-width="0.1">4</text><line x1="121.00" y1="171.20" x2="123.20" y2="171.20" stroke="#8a8a8a" stroke-width="0.8" /><text x="118.20" y="173.90" font-size="8.0" text-anchor="end" stroke="#1a1a1a" stroke-width="0.1">2</text><line x1="121.00" y1="185.00" x2="123.20" y2="185.00" stroke="#8a8a8a" stroke-width="0.8" /><text x="118.20" y="187.70" font-size="8.0" text-anchor="end" stroke="#1a1a1a" stroke-width="0.1">0</text><line x1="123.20" y1="185.00" x2="197.60" y2="185.00" stroke="#8a8a8a" stroke-width="0.8" /><line x1="123.20" y1="185.00" x2="123.20" y2="187.20" stroke="#8a8a8a" stroke-width="0.8" /><text x="123.20" y="198.00" font-size="8.0" text-anchor="middle" stroke="#1a1a1a" stroke-width="0.1">0</text><line x1="147.90" y1="185.00" x2="147.90" y2="187.20" stroke="#8a8a8a" stroke-width="0.8" /><text x="147.90" y="198.00" font-size="8.0" text-anchor="middle" stroke="#1a1a1a" stroke-width="0.1">2</text><line x1="172.50" y1="185.00" x2="172.50" y2="187.20" stroke="#8a8a8a" stroke-width="0.8" /><text x="172.50" y="198.00" font-size="8.0" text-anchor="middle" stroke="#1a1a1a" stroke-width="0.1">4</text><line x1="197.60" y1="185.00" x2="197.60" y2="187.20" stroke="#8a8a8a" stroke-width="0.8" /><text x="197.60" y="198.00" font-size="8.0" text-anchor="middle" stroke="#1a1a1a" stroke-width="0.1">6</text><text x="160.20" y="208.60" font-size="8.0" text-anchor="middle" stroke="#1a1a1a" stroke-width="0.1">Relative pixel density</text><text x="104.88" y="157.00" font-size="8.0" text-anchor="middle" stroke="#1a1a1a" stroke-width="0.1" transform="rotate(-90 104.88 157.00)">−log<tspan font-size="5.2" dy="1.8">10</tspan><tspan dy="-1.8">(</tspan><tspan font-style="italic">P</tspan> value)</text><line x1="147.30" y1="129.10" x2="147.30" y2="185.00" stroke="#666" stroke-width="0.6" stroke-dasharray="1,1" /><circle cx="157.70" cy="136.60" r="1.60" fill="#f2361e" /><text x="160.60" y="139.40" font-size="8.0" fill="#f2361e" stroke="#f2361e" stroke-width="0.1">pSTAT5</text><text x="156.70" y="153.70" font-size="8.0" stroke="#1a1a1a" stroke-width="0.1"><tspan font-style="italic">P</tspan> &lt; 0.0001</text><circle cx="127.25" cy="156.92" r="1.45" fill="#000" /><circle cx="128.13" cy="165.20" r="1.45" fill="#000" /><circle cx="131.48" cy="169.25" r="1.45" fill="#000" /><circle cx="131.48" cy="175.77" r="1.45" fill="#000" /><circle cx="132.00" cy="177.53" r="1.45" fill="#000" /><circle cx="132.89" cy="178.41" r="1.45" fill="#000" /><circle cx="133.77" cy="177.53" r="1.45" fill="#000" /><circle cx="132.00" cy="180.18" r="1.45" fill="#000" /><circle cx="133.77" cy="181.06" r="1.45" fill="#000" /><circle cx="132.89" cy="182.82" r="1.45" fill="#000" /><circle cx="134.65" cy="184.23" r="1.45" fill="#000" /><circle cx="135.53" cy="183.70" r="1.45" fill="#000" /><circle cx="136.41" cy="183.17" r="1.45" fill="#000" /><circle cx="139.58" cy="165.20" r="1.45" fill="#000" /><circle cx="140.46" cy="163.44" r="1.45" fill="#000" /><circle cx="142.58" cy="166.96" r="1.45" fill="#000" /><circle cx="150.51" cy="177.53" r="1.45" fill="#000" /><circle cx="151.39" cy="176.12" r="1.45" fill="#000" /><circle cx="152.80" cy="171.37" r="1.45" fill="#000" /><circle cx="153.68" cy="166.08" r="1.45" fill="#000" /><circle cx="157.56" cy="171.37" r="1.45" fill="#000" /><circle cx="158.08" cy="164.85" r="1.45" fill="#000" /><circle cx="158.79" cy="170.13" r="1.45" fill="#000" /><circle cx="159.32" cy="164.67" r="1.45" fill="#000" /><circle cx="161.96" cy="171.89" r="1.45" fill="#000" /><circle cx="165.48" cy="166.08" r="1.45" fill="#000" /><circle cx="166.37" cy="165.55" r="1.45" fill="#000" /><circle cx="167.25" cy="165.73" r="1.45" fill="#000" /><circle cx="170.42" cy="160.26" r="1.45" fill="#000" /><circle cx="172.00" cy="176.12" r="1.45" fill="#000" /><circle cx="174.65" cy="173.13" r="1.45" fill="#000" /><circle cx="189.80" cy="174.54" r="1.45" fill="#000" /><circle cx="192.97" cy="171.37" r="1.45" fill="#000" /><circle cx="131.12" cy="176.65" r="1.45" fill="#000" /><circle cx="132.36" cy="174.89" r="1.45" fill="#000" /><text x="208.80" y="8.20" font-size="11" font-weight="bold" fill="#000" stroke="#000" stroke-width="0.1">d</text><path d="M241.12,49.70 L241.12,49.69 L242.89,47.22 L244.65,46.17 L245.88,42.29 L246.94,34.36 L247.82,24.67 L248.52,18.15 L249.41,19.03 L250.46,26.43 L251.70,29.96 L253.46,35.24 L255.22,39.65 L256.98,44.93 L259.63,49.69 L259.63,49.70 Z" fill="#ff7d7a" /><path d="M222.62,84.20 L222.62,84.23 L227.91,83.17 L233.19,81.94 L236.72,80.70 L238.48,77.53 L240.24,74.01 L242.89,66.96 L245.18,58.15 L247.29,51.10 L248.70,51.98 L249.93,58.15 L251.70,66.96 L253.99,74.01 L256.10,80.18 L257.51,84.23 L257.51,84.20 Z" fill="#7676fa" /><line x1="248.70" y1="15.50" x2="248.70" y2="84.20" stroke="#111" stroke-width="0.8" stroke-dasharray="2,1.3" /><rect x="219.40" y="15.50" width="59.30" height="68.70" fill="none" stroke="#111" stroke-width="0.8" /><line x1="219.40" y1="49.70" x2="278.70" y2="49.70" stroke="#333" stroke-width="0.8" /><line x1="213.20" y1="58.00" x2="213.20" y2="20.10" stroke="#222" stroke-width="0.7" /><path d="M211.90,20.60 L213.20,17.60 L214.50,20.60 Z" fill="#222" /><text x="216.00" y="84.20" font-size="8.0" stroke="#1a1a1a" stroke-width="0.1" transform="rotate(-90 216.00 84.20)">Count</text><text x="217.00" y="94.40" font-size="8.0" stroke="#1a1a1a" stroke-width="0.1">MHCI-APC</text><line x1="261.40" y1="91.50" x2="276.20" y2="91.50" stroke="#222" stroke-width="0.7" /><path d="M275.70,90.20 L278.70,91.50 L275.70,92.80 Z" fill="#222" /><text x="290.30" y="32.60" font-size="8.0" text-anchor="middle" stroke="#1a1a1a" stroke-width="0.1" transform="rotate(-90 290.30 32.60)"><tspan font-style="italic">Stat3</tspan><tspan font-size="6.08" dy="-3.84">−/−</tspan></text><text x="290.30" y="66.95" font-size="8.0" text-anchor="middle" stroke="#1a1a1a" stroke-width="0.1" transform="rotate(-90 290.30 66.95)"><tspan font-style="italic">Stat3</tspan><tspan font-size="6.08" dy="-3.84">+/+</tspan></text><line x1="343.50" y1="10.20" x2="343.50" y2="75.40" stroke="#8a8a8a" stroke-width="0.8" /><line x1="341.30" y1="10.20" x2="343.50" y2="10.20" stroke="#8a8a8a" stroke-width="0.8" /><text x="337.60" y="12.90" font-size="8.0" text-anchor="end" stroke="#1a1a1a" stroke-width="0.1">3,000</text><line x1="341.30" y1="31.70" x2="343.50" y2="31.70" stroke="#8a8a8a" stroke-width="0.8" /><text x="337.60" y="34.40" font-size="8.0" text-anchor="end" stroke="#1a1a1a" stroke-width="0.1">2,000</text><line x1="341.30" y1="53.20" x2="343.50" y2="53.20" stroke="#8a8a8a" stroke-width="0.8" /><text x="337.60" y="55.90" font-size="8.0" text-anchor="end" stroke="#1a1a1a" stroke-width="0.1">1,000</text><line x1="341.30" y1="75.40" x2="343.50" y2="75.40" stroke="#8a8a8a" stroke-width="0.8" /><text x="337.60" y="78.10" font-size="8.0" text-anchor="end" stroke="#1a1a1a" stroke-width="0.1">0</text><line x1="343.50" y1="75.40" x2="377.00" y2="75.40" stroke="#8a8a8a" stroke-width="0.8" /><rect x="348.20" y="33.80" width="9.40" height="41.60" fill="#d4e2f8" stroke="#3355dd" stroke-width="0.8" /><rect x="362.50" y="21.10" width="9.50" height="54.30" fill="#fde1df" stroke="#f04030" stroke-width="0.8" /><line x1="367.25" y1="17.60" x2="367.25" y2="23.80" stroke="#f04030" stroke-width="0.8" /><line x1="365.25" y1="17.60" x2="369.25" y2="17.60" stroke="#f04030" stroke-width="0.8" /><line x1="365.25" y1="23.80" x2="369.25" y2="23.80" stroke="#f04030" stroke-width="0.8" /><circle cx="350.00" cy="33.80" r="1.65" fill="#1d3fd6" /><circle cx="353.20" cy="37.90" r="1.65" fill="#1d3fd6" /><circle cx="356.30" cy="34.40" r="1.65" fill="#1d3fd6" /><rect x="362.55" y="15.55" width="3.10" height="3.10" fill="#f2361e" /><rect x="368.85" y="17.45" width="3.10" height="3.10" fill="#f2361e" /><rect x="365.65" y="24.85" width="3.10" height="3.10" fill="#f2361e" /><line x1="352.90" y1="75.40" x2="352.90" y2="78.60" stroke="#777" stroke-width="0.8" /><line x1="367.25" y1="75.40" x2="367.25" y2="78.60" stroke="#777" stroke-width="0.8" /><text x="359.90" y="85.90" font-size="8.0" text-anchor="end" stroke="#1a1a1a" stroke-width="0.1" transform="rotate(-45 359.90 85.90)"><tspan font-style="italic">Stat3</tspan><tspan font-size="6.08" dy="-3.84">+/+</tspan></text><text x="374.25" y="85.90" font-size="8.0" text-anchor="end" stroke="#1a1a1a" stroke-width="0.1" transform="rotate(-45 374.25 85.90)"><tspan font-style="italic">Stat3</tspan><tspan font-size="6.08" dy="-3.84">−/−</tspan></text><text x="367.25" y="16.60" font-size="9.5" text-anchor="middle" stroke="#1a1a1a" stroke-width="0.1">**</text><text x="311.08" y="42.80" font-size="8.0" text-anchor="middle" stroke="#1a1a1a" stroke-width="0.1" transform="rotate(-90 311.08 42.80)">MHCI MFI</text><text x="388.80" y="8.20" font-size="11" font-weight="bold" fill="#000" stroke="#000" stroke-width="0.1">e</text><path d="M422.00,49.70 L422.00,49.69 L427.29,46.17 L431.70,42.29 L436.10,38.24 L439.63,36.12 L442.27,32.60 L444.91,26.08 L446.67,19.38 L448.08,16.74 L449.49,17.09 L451.61,22.91 L453.72,29.96 L456.37,37.89 L459.01,44.41 L462.89,49.69 L462.89,49.70 Z" fill="#ff7d7a" /><path d="M404.03,84.20 L404.03,84.23 L411.43,83.88 L420.24,83.52 L423.41,82.82 L426.41,77.53 L429.05,66.96 L431.70,58.15 L434.34,51.45 L436.45,53.74 L439.63,63.44 L443.15,70.48 L445.79,75.77 L448.44,79.65 L452.84,84.23 L452.84,84.20 Z" fill="#7676fa" /><line x1="448.40" y1="15.50" x2="448.40" y2="84.20" stroke="#111" stroke-width="0.8" stroke-dasharray="2,1.3" /><rect x="401.70" y="15.50" width="64.30" height="68.70" fill="none" stroke="#111" stroke-width="0.8" /><line x1="401.70" y1="49.70" x2="466.00" y2="49.70" stroke="#333" stroke-width="0.8" /><line x1="395.30" y1="58.00" x2="395.30" y2="20.10" stroke="#222" stroke-width="0.7" /><path d="M394.00,20.60 L395.30,17.60 L396.60,20.60 Z" fill="#222" /><text x="398.10" y="84.20" font-size="8.0" stroke="#1a1a1a" stroke-width="0.1" transform="rotate(-90 398.10 84.20)">Count</text><text x="404.00" y="94.40" font-size="8.0" stroke="#1a1a1a" stroke-width="0.1">MHCII-BV421</text><line x1="454.00" y1="91.50" x2="463.50" y2="91.50" stroke="#222" stroke-width="0.7" /><path d="M463.00,90.20 L466.00,91.50 L463.00,92.80 Z" fill="#222" /><text x="476.80" y="32.60" font-size="8.0" text-anchor="middle" stroke="#1a1a1a" stroke-width="0.1" transform="rotate(-90 476.80 32.60)"><tspan font-style="italic">Stat3</tspan><tspan font-size="6.08" dy="-3.84">−/−</tspan></text><text x="476.80" y="66.95" font-size="8.0" text-anchor="middle" stroke="#1a1a1a" stroke-width="0.1" transform="rotate(-90 476.80 66.95)"><tspan font-style="italic">Stat3</tspan><tspan font-size="6.08" dy="-3.84">+/+</tspan></text><line x1="521.60" y1="9.20" x2="521.60" y2="74.40" stroke="#8a8a8a" stroke-width="0.8" /><line x1="519.40" y1="9.20" x2="521.60" y2="9.20" stroke="#8a8a8a" stroke-width="0.8" /><text x="514.60" y="11.90" font-size="8.0" text-anchor="end" stroke="#1a1a1a" stroke-width="0.1">15</text><line x1="519.40" y1="31.40" x2="521.60" y2="31.40" stroke="#8a8a8a" stroke-width="0.8" /><text x="514.60" y="34.10" font-size="8.0" text-anchor="end" stroke="#1a1a1a" stroke-width="0.1">10</text><line x1="519.40" y1="52.90" x2="521.60" y2="52.90" stroke="#8a8a8a" stroke-width="0.8" /><text x="514.60" y="55.60" font-size="8.0" text-anchor="end" stroke="#1a1a1a" stroke-width="0.1">5</text><line x1="519.40" y1="74.40" x2="521.60" y2="74.40" stroke="#8a8a8a" stroke-width="0.8" /><text x="514.60" y="77.10" font-size="8.0" text-anchor="end" stroke="#1a1a1a" stroke-width="0.1">0</text><line x1="521.60" y1="74.40" x2="555.40" y2="74.40" stroke="#8a8a8a" stroke-width="0.8" /><rect x="526.30" y="56.70" width="9.40" height="17.70" fill="#d4e2f8" stroke="#3355dd" stroke-width="0.8" /><rect x="540.40" y="24.30" width="9.60" height="50.10" fill="#fde1df" stroke="#f04030" stroke-width="0.8" /><line x1="531.00" y1="53.50" x2="531.00" y2="59.00" stroke="#3355dd" stroke-width="0.8" /><line x1="529.00" y1="53.50" x2="533.00" y2="53.50" stroke="#3355dd" stroke-width="0.8" /><line x1="529.00" y1="59.00" x2="533.00" y2="59.00" stroke="#3355dd" stroke-width="0.8" /><line x1="545.20" y1="16.40" x2="545.20" y2="31.70" stroke="#f04030" stroke-width="0.8" /><line x1="543.20" y1="16.40" x2="547.20" y2="16.40" stroke="#f04030" stroke-width="0.8" /><line x1="543.20" y1="31.70" x2="547.20" y2="31.70" stroke="#f04030" stroke-width="0.8" /><circle cx="530.80" cy="52.90" r="1.65" fill="#1d3fd6" /><circle cx="527.60" cy="57.80" r="1.65" fill="#1d3fd6" /><circle cx="534.30" cy="57.30" r="1.65" fill="#1d3fd6" /><rect x="540.45" y="14.85" width="3.10" height="3.10" fill="#f2361e" /><rect x="547.15" y="15.75" width="3.10" height="3.10" fill="#f2361e" /><rect x="543.65" y="36.85" width="3.10" height="3.10" fill="#f2361e" /><line x1="531.00" y1="74.40" x2="531.00" y2="77.60" stroke="#777" stroke-width="0.8" /><line x1="545.20" y1="74.40" x2="545.20" y2="77.60" stroke="#777" stroke-width="0.8" /><text x="538.00" y="84.90" font-size="8.0" text-anchor="end" stroke="#1a1a1a" stroke-width="0.1" transform="rotate(-45 538.00 84.90)"><tspan font-style="italic">Stat3</tspan><tspan font-size="6.08" dy="-3.84">+/+</tspan></text><text x="552.20" y="84.90" font-size="8.0" text-anchor="end" stroke="#1a1a1a" stroke-width="0.1" transform="rotate(-45 552.20 84.90)"><tspan font-style="italic">Stat3</tspan><tspan font-size="6.08" dy="-3.84">−/−</tspan></text><text x="545.20" y="15.30" font-size="9.5" text-anchor="middle" stroke="#1a1a1a" stroke-width="0.1">*</text><text x="500.68" y="41.80" font-size="8.0" text-anchor="middle" stroke="#1a1a1a" stroke-width="0.1" transform="rotate(-90 500.68 41.80)">MHCII MFI (×10<tspan font-size="5.2" dy="-3">3</tspan><tspan dy="3">)</tspan></text><text x="209.60" y="118.80" font-size="11" font-weight="bold" fill="#000" stroke="#000" stroke-width="0.1">f</text><path d="M221.39,159.60 L221.39,159.21 L224.38,156.74 L227.91,155.51 L231.08,151.10 L233.19,146.17 L235.84,137.89 L238.48,129.07 L240.24,126.43 L242.89,128.19 L244.65,133.48 L247.29,142.29 L249.93,151.98 L252.93,159.21 L252.93,159.60 Z" fill="#ff7d7a" /><path d="M221.39,194.30 L221.39,194.27 L221.39,188.99 L224.38,186.34 L227.91,181.06 L231.43,174.01 L234.96,166.96 L237.60,161.67 L239.36,159.91 L241.12,160.79 L243.77,166.96 L246.41,174.89 L249.93,184.58 L254.69,194.27 L254.69,194.30 Z" fill="#7676fa" /><line x1="239.90" y1="125.60" x2="239.90" y2="194.30" stroke="#111" stroke-width="0.8" stroke-dasharray="2,1.3" /><rect x="221.40" y="125.60" width="59.90" height="68.70" fill="none" stroke="#111" stroke-width="0.8" /><line x1="221.40" y1="159.60" x2="281.30" y2="159.60" stroke="#333" stroke-width="0.8" /><line x1="213.80" y1="168.70" x2="213.80" y2="130.70" stroke="#222" stroke-width="0.7" /><path d="M212.50,131.20 L213.80,128.20 L215.10,131.20 Z" fill="#222" /><text x="216.60" y="194.30" font-size="8.0" stroke="#1a1a1a" stroke-width="0.1" transform="rotate(-90 216.60 194.30)">Count</text><text x="215.60" y="204.50" font-size="8.0" stroke="#1a1a1a" stroke-width="0.1">CD80-BV650</text><line x1="265.00" y1="201.60" x2="280.00" y2="201.60" stroke="#222" stroke-width="0.7" /><path d="M279.50,200.30 L282.50,201.60 L279.50,202.90 Z" fill="#222" /><text x="293.30" y="142.60" font-size="8.0" text-anchor="middle" stroke="#1a1a1a" stroke-width="0.1" transform="rotate(-90 293.30 142.60)"><tspan font-style="italic">Stat3</tspan><tspan font-size="6.08" dy="-3.84">−/−</tspan></text><text x="293.30" y="176.95" font-size="8.0" text-anchor="middle" stroke="#1a1a1a" stroke-width="0.1" transform="rotate(-90 293.30 176.95)"><tspan font-style="italic">Stat3</tspan><tspan font-size="6.08" dy="-3.84">+/+</tspan></text><line x1="346.10" y1="128.20" x2="346.10" y2="193.00" stroke="#8a8a8a" stroke-width="0.8" /><line x1="343.90" y1="128.20" x2="346.10" y2="128.20" stroke="#8a8a8a" stroke-width="0.8" /><text x="338.40" y="130.90" font-size="8.0" text-anchor="end" stroke="#1a1a1a" stroke-width="0.1">1,500</text><line x1="343.90" y1="150.20" x2="346.10" y2="150.20" stroke="#8a8a8a" stroke-width="0.8" /><text x="338.40" y="152.90" font-size="8.0" text-anchor="end" stroke="#1a1a1a" stroke-width="0.1">1,000</text><line x1="343.90" y1="171.70" x2="346.10" y2="171.70" stroke="#8a8a8a" stroke-width="0.8" /><text x="338.40" y="174.40" font-size="8.0" text-anchor="end" stroke="#1a1a1a" stroke-width="0.1">500</text><line x1="343.90" y1="193.00" x2="346.10" y2="193.00" stroke="#8a8a8a" stroke-width="0.8" /><text x="338.40" y="195.70" font-size="8.0" text-anchor="end" stroke="#1a1a1a" stroke-width="0.1">0</text><line x1="346.10" y1="193.00" x2="378.70" y2="193.00" stroke="#8a8a8a" stroke-width="0.8" /><rect x="350.20" y="169.30" width="9.50" height="23.70" fill="#d4e2f8" stroke="#3355dd" stroke-width="0.8" /><rect x="364.30" y="141.40" width="9.50" height="51.60" fill="#fde1df" stroke="#f04030" stroke-width="0.8" /><line x1="354.95" y1="163.10" x2="354.95" y2="174.90" stroke="#3355dd" stroke-width="0.8" /><line x1="352.95" y1="163.10" x2="356.95" y2="163.10" stroke="#3355dd" stroke-width="0.8" /><line x1="352.95" y1="174.90" x2="356.95" y2="174.90" stroke="#3355dd" stroke-width="0.8" /><circle cx="354.90" cy="160.30" r="1.65" fill="#1d3fd6" /><circle cx="354.60" cy="167.50" r="1.65" fill="#1d3fd6" /><circle cx="354.60" cy="179.80" r="1.65" fill="#1d3fd6" /><rect x="363.95" y="138.95" width="3.10" height="3.10" fill="#f2361e" /><rect x="364.85" y="141.65" width="3.10" height="3.10" fill="#f2361e" /><rect x="370.95" y="140.75" width="3.10" height="3.10" fill="#f2361e" /><line x1="354.95" y1="193.00" x2="354.95" y2="196.20" stroke="#777" stroke-width="0.8" /><line x1="369.05" y1="193.00" x2="369.05" y2="196.20" stroke="#777" stroke-width="0.8" /><text x="361.95" y="203.50" font-size="8.0" text-anchor="end" stroke="#1a1a1a" stroke-width="0.1" transform="rotate(-45 361.95 203.50)"><tspan font-style="italic">Stat3</tspan><tspan font-size="6.08" dy="-3.84">+/+</tspan></text><text x="376.05" y="203.50" font-size="8.0" text-anchor="end" stroke="#1a1a1a" stroke-width="0.1" transform="rotate(-45 376.05 203.50)"><tspan font-style="italic">Stat3</tspan><tspan font-size="6.08" dy="-3.84">−/−</tspan></text><text x="369.05" y="137.70" font-size="9.5" text-anchor="middle" stroke="#1a1a1a" stroke-width="0.1">**</text><text x="313.38" y="160.60" font-size="8.0" text-anchor="middle" stroke="#1a1a1a" stroke-width="0.1" transform="rotate(-90 313.38 160.60)">CD80 MFI</text><text x="388.60" y="120.80" font-size="11" font-weight="bold" fill="#000" stroke="#000" stroke-width="0.1">g</text><path d="M419.36,158.10 L419.36,158.15 L422.89,151.10 L426.41,140.53 L429.05,131.72 L431.17,129.07 L434.34,126.78 L436.98,129.07 L439.63,135.24 L442.27,142.29 L445.79,151.10 L449.32,156.39 L452.84,158.15 L452.84,158.10 Z" fill="#ff7d7a" /><path d="M414.07,192.50 L414.07,192.51 L417.60,186.34 L421.12,175.77 L424.65,165.20 L428.17,159.56 L431.17,160.79 L434.34,166.96 L437.86,175.77 L441.39,186.34 L445.79,192.51 L445.79,192.50 Z" fill="#7676fa" /><line x1="435.60" y1="124.30" x2="435.60" y2="192.50" stroke="#111" stroke-width="0.8" stroke-dasharray="2,1.3" /><rect x="403.10" y="124.30" width="61.50" height="68.20" fill="none" stroke="#111" stroke-width="0.8" /><line x1="403.10" y1="158.10" x2="464.60" y2="158.10" stroke="#333" stroke-width="0.8" /><line x1="396.50" y1="168.70" x2="396.50" y2="130.70" stroke="#222" stroke-width="0.7" /><path d="M395.20,131.20 L396.50,128.20 L397.80,131.20 Z" fill="#222" /><text x="399.30" y="192.50" font-size="8.0" stroke="#1a1a1a" stroke-width="0.1" transform="rotate(-90 399.30 192.50)">Count</text><text x="402.30" y="202.70" font-size="8.0" stroke="#1a1a1a" stroke-width="0.1">CD86-PE</text><line x1="439.60" y1="199.80" x2="460.90" y2="199.80" stroke="#222" stroke-width="0.7" /><path d="M460.40,198.50 L463.40,199.80 L460.40,201.10 Z" fill="#222" /><text x="476.80" y="141.20" font-size="8.0" text-anchor="middle" stroke="#1a1a1a" stroke-width="0.1" transform="rotate(-90 476.80 141.20)"><tspan font-style="italic">Stat3</tspan><tspan font-size="6.08" dy="-3.84">−/−</tspan></text><text x="476.80" y="175.30" font-size="8.0" text-anchor="middle" stroke="#1a1a1a" stroke-width="0.1" transform="rotate(-90 476.80 175.30)"><tspan font-style="italic">Stat3</tspan><tspan font-size="6.08" dy="-3.84">+/+</tspan></text><line x1="522.60" y1="127.80" x2="522.60" y2="193.00" stroke="#8a8a8a" stroke-width="0.8" /><line x1="520.40" y1="127.80" x2="522.60" y2="127.80" stroke="#8a8a8a" stroke-width="0.8" /><text x="515.40" y="130.50" font-size="8.0" text-anchor="end" stroke="#1a1a1a" stroke-width="0.1">8</text><line x1="520.40" y1="144.40" x2="522.60" y2="144.40" stroke="#8a8a8a" stroke-width="0.8" /><text x="515.40" y="147.10" font-size="8.0" text-anchor="end" stroke="#1a1a1a" stroke-width="0.1">6</text><line x1="520.40" y1="160.60" x2="522.60" y2="160.60" stroke="#8a8a8a" stroke-width="0.8" /><text x="515.40" y="163.30" font-size="8.0" text-anchor="end" stroke="#1a1a1a" stroke-width="0.1">4</text><line x1="520.40" y1="177.00" x2="522.60" y2="177.00" stroke="#8a8a8a" stroke-width="0.8" /><text x="515.40" y="179.70" font-size="8.0" text-anchor="end" stroke="#1a1a1a" stroke-width="0.1">2</text><line x1="520.40" y1="193.00" x2="522.60" y2="193.00" stroke="#8a8a8a" stroke-width="0.8" /><text x="515.40" y="195.70" font-size="8.0" text-anchor="end" stroke="#1a1a1a" stroke-width="0.1">0</text><line x1="522.60" y1="193.00" x2="555.80" y2="193.00" stroke="#8a8a8a" stroke-width="0.8" /><rect x="526.90" y="166.30" width="9.50" height="26.70" fill="#d4e2f8" stroke="#3355dd" stroke-width="0.8" /><rect x="541.30" y="151.50" width="9.50" height="41.50" fill="#fde1df" stroke="#f04030" stroke-width="0.8" /><line x1="531.65" y1="162.50" x2="531.65" y2="171.00" stroke="#3355dd" stroke-width="0.8" /><line x1="529.65" y1="162.50" x2="533.65" y2="162.50" stroke="#3355dd" stroke-width="0.8" /><line x1="529.65" y1="171.00" x2="533.65" y2="171.00" stroke="#3355dd" stroke-width="0.8" /><line x1="546.05" y1="146.50" x2="546.05" y2="157.00" stroke="#f04030" stroke-width="0.8" /><line x1="544.05" y1="146.50" x2="548.05" y2="146.50" stroke="#f04030" stroke-width="0.8" /><line x1="544.05" y1="157.00" x2="548.05" y2="157.00" stroke="#f04030" stroke-width="0.8" /><circle cx="531.50" cy="160.40" r="1.65" fill="#1d3fd6" /><circle cx="531.50" cy="166.60" r="1.65" fill="#1d3fd6" /><circle cx="531.50" cy="171.40" r="1.65" fill="#1d3fd6" /><rect x="544.55" y="141.65" width="3.10" height="3.10" fill="#f2361e" /><rect x="544.05" y="149.95" width="3.10" height="3.10" fill="#f2361e" /><rect x="544.05" y="156.65" width="3.10" height="3.10" fill="#f2361e" /><line x1="531.65" y1="193.00" x2="531.65" y2="196.20" stroke="#777" stroke-width="0.8" /><line x1="546.05" y1="193.00" x2="546.05" y2="196.20" stroke="#777" stroke-width="0.8" /><text x="538.65" y="203.50" font-size="8.0" text-anchor="end" stroke="#1a1a1a" stroke-width="0.1" transform="rotate(-45 538.65 203.50)"><tspan font-style="italic">Stat3</tspan><tspan font-size="6.08" dy="-3.84">+/+</tspan></text><text x="553.05" y="203.50" font-size="8.0" text-anchor="end" stroke="#1a1a1a" stroke-width="0.1" transform="rotate(-45 553.05 203.50)"><tspan font-style="italic">Stat3</tspan><tspan font-size="6.08" dy="-3.84">−/−</tspan></text><text x="546.05" y="138.60" font-size="9.5" text-anchor="middle" stroke="#1a1a1a" stroke-width="0.1">*</text><text x="504.18" y="160.40" font-size="8.0" text-anchor="middle" stroke="#1a1a1a" stroke-width="0.1" transform="rotate(-90 504.18 160.40)">CD86 MFI (×10<tspan font-size="5.2" dy="-3">3</tspan><tspan dy="3">)</tspan></text><text x="276.00" y="239.90" font-size="11" font-weight="bold" fill="#000" stroke="#000" stroke-width="0.1">l</text><line x1="307.40" y1="252.30" x2="307.40" y2="326.90" stroke="#8a8a8a" stroke-width="0.8" /><line x1="305.20" y1="252.30" x2="307.40" y2="252.30" stroke="#8a8a8a" stroke-width="0.8" /><text x="302.60" y="255.00" font-size="8.0" text-anchor="end" stroke="#1a1a1a" stroke-width="0.1">40</text><line x1="305.20" y1="271.20" x2="307.40" y2="271.20" stroke="#8a8a8a" stroke-width="0.8" /><text x="302.60" y="273.90" font-size="8.0" text-anchor="end" stroke="#1a1a1a" stroke-width="0.1">30</text><line x1="305.20" y1="289.70" x2="307.40" y2="289.70" stroke="#8a8a8a" stroke-width="0.8" /><text x="302.60" y="292.40" font-size="8.0" text-anchor="end" stroke="#1a1a1a" stroke-width="0.1">20</text><line x1="305.20" y1="308.20" x2="307.40" y2="308.20" stroke="#8a8a8a" stroke-width="0.8" /><text x="302.60" y="310.90" font-size="8.0" text-anchor="end" stroke="#1a1a1a" stroke-width="0.1">10</text><line x1="305.20" y1="326.90" x2="307.40" y2="326.90" stroke="#8a8a8a" stroke-width="0.8" /><text x="302.60" y="329.60" font-size="8.0" text-anchor="end" stroke="#1a1a1a" stroke-width="0.1">0</text><line x1="307.40" y1="326.90" x2="354.30" y2="326.90" stroke="#8a8a8a" stroke-width="0.8" /><line x1="314.40" y1="326.90" x2="314.40" y2="329.10" stroke="#8a8a8a" stroke-width="0.8" /><line x1="325.50" y1="326.90" x2="325.50" y2="329.10" stroke="#8a8a8a" stroke-width="0.8" /><line x1="336.10" y1="326.90" x2="336.10" y2="329.10" stroke="#8a8a8a" stroke-width="0.8" /><line x1="346.70" y1="326.90" x2="346.70" y2="329.10" stroke="#8a8a8a" stroke-width="0.8" /><circle cx="312.30" cy="279.30" r="1.65" fill="#1d3fd6" /><circle cx="314.50" cy="279.10" r="1.65" fill="#1d3fd6" /><circle cx="317.00" cy="279.80" r="1.65" fill="#1d3fd6" /><circle cx="314.10" cy="281.60" r="1.65" fill="#1d3fd6" /><circle cx="314.50" cy="283.80" r="1.65" fill="#1d3fd6" /><line x1="310.20" y1="280.60" x2="318.60" y2="280.60" stroke="#1d3fd6" stroke-width="0.9" /><line x1="314.40" y1="279.80" x2="314.40" y2="281.40" stroke="#1d3fd6" stroke-width="0.9" /><line x1="312.40" y1="279.80" x2="316.40" y2="279.80" stroke="#1d3fd6" stroke-width="0.9" /><line x1="312.40" y1="281.40" x2="316.40" y2="281.40" stroke="#1d3fd6" stroke-width="0.9" /><rect x="323.95" y="262.95" width="3.10" height="3.10" fill="#1d3fd6" /><rect x="323.95" y="265.15" width="3.10" height="3.10" fill="#1d3fd6" /><rect x="323.95" y="266.95" width="3.10" height="3.10" fill="#1d3fd6" /><rect x="323.95" y="273.55" width="3.10" height="3.10" fill="#1d3fd6" /><line x1="321.30" y1="269.50" x2="329.70" y2="269.50" stroke="#1d3fd6" stroke-width="0.9" /><line x1="325.50" y1="266.70" x2="325.50" y2="272.50" stroke="#1d3fd6" stroke-width="0.9" /><line x1="323.50" y1="266.70" x2="327.50" y2="266.70" stroke="#1d3fd6" stroke-width="0.9" /><line x1="323.50" y1="272.50" x2="327.50" y2="272.50" stroke="#1d3fd6" stroke-width="0.9" /><circle cx="336.00" cy="287.10" r="1.65" fill="#f2361e" /><circle cx="338.20" cy="295.50" r="1.65" fill="#f2361e" /><circle cx="333.80" cy="297.70" r="1.65" fill="#f2361e" /><circle cx="337.60" cy="294.50" r="1.65" fill="#f2361e" /><line x1="331.90" y1="293.30" x2="340.30" y2="293.30" stroke="#f2361e" stroke-width="0.9" /><line x1="336.10" y1="290.40" x2="336.10" y2="295.50" stroke="#f2361e" stroke-width="0.9" /><line x1="334.10" y1="290.40" x2="338.10" y2="290.40" stroke="#f2361e" stroke-width="0.9" /><line x1="334.10" y1="295.50" x2="338.10" y2="295.50" stroke="#f2361e" stroke-width="0.9" /><rect x="345.15" y="277.95" width="3.10" height="3.10" fill="#f2361e" /><rect x="347.25" y="285.55" width="3.10" height="3.10" fill="#f2361e" /><rect x="342.85" y="288.85" width="3.10" height="3.10" fill="#f2361e" /><rect x="346.55" y="286.65" width="3.10" height="3.10" fill="#f2361e" /><line x1="342.50" y1="286.00" x2="350.90" y2="286.00" stroke="#f2361e" stroke-width="0.9" /><line x1="346.70" y1="282.70" x2="346.70" y2="288.20" stroke="#f2361e" stroke-width="0.9" /><line x1="344.70" y1="282.70" x2="348.70" y2="282.70" stroke="#f2361e" stroke-width="0.9" /><line x1="344.70" y1="288.20" x2="348.70" y2="288.20" stroke="#f2361e" stroke-width="0.9" /><line x1="322.90" y1="258.30" x2="348.10" y2="258.30" stroke="#333" stroke-width="0.9" /><text x="336.10" y="258.30" font-size="9.5" text-anchor="middle" stroke="#1a1a1a" stroke-width="0.1">**</text><text x="286.08" y="291.00" font-size="8.0" text-anchor="middle" stroke="#1a1a1a" stroke-width="0.1" transform="rotate(-90 286.08 291.00)">MHCII MFI (×10<tspan font-size="5.2" dy="-3">3</tspan><tspan dy="3">)</tspan></text><text x="320.60" y="337.70" font-size="8.0" text-anchor="end" stroke="#1a1a1a" stroke-width="0.1" transform="rotate(-45 320.60 337.70)"><tspan font-style="italic">Stat3</tspan><tspan font-size="6.08" dy="-3.84">+/+</tspan></text><text x="331.70" y="337.70" font-size="8.0" text-anchor="end" stroke="#1a1a1a" stroke-width="0.1" transform="rotate(-45 331.70 337.70)"><tspan font-style="italic">Stat3</tspan><tspan font-size="6.08" dy="-3.84">−/−</tspan></text><text x="342.30" y="337.70" font-size="8.0" text-anchor="end" stroke="#1a1a1a" stroke-width="0.1" transform="rotate(-45 342.30 337.70)"><tspan font-style="italic">Stat3</tspan><tspan font-size="6.08" dy="-3.84">+/+</tspan></text><text x="352.90" y="337.70" font-size="8.0" text-anchor="end" stroke="#1a1a1a" stroke-width="0.1" transform="rotate(-45 352.90 337.70)"><tspan font-style="italic">Stat3</tspan><tspan font-size="6.08" dy="-3.84">−/−</tspan></text><line x1="292.20" y1="358.20" x2="311.00" y2="358.20" stroke="#222" stroke-width="0.9" /><line x1="315.00" y1="358.20" x2="333.90" y2="358.20" stroke="#222" stroke-width="0.9" /><text x="301.00" y="368.10" font-size="8.0" text-anchor="middle" stroke="#1a1a1a" stroke-width="0.1">DMSO</text><text x="326.50" y="368.10" font-size="8.0" text-anchor="middle" stroke="#1a1a1a" stroke-width="0.1">STAT5i</text><text x="361.60" y="240.20" font-size="11" font-weight="bold" fill="#000" stroke="#000" stroke-width="0.1">m</text><line x1="409.40" y1="252.80" x2="409.40" y2="326.60" stroke="#8a8a8a" stroke-width="0.8" /><line x1="407.20" y1="252.80" x2="409.40" y2="252.80" stroke="#8a8a8a" stroke-width="0.8" /><text x="403.20" y="255.50" font-size="8.0" text-anchor="end" stroke="#1a1a1a" stroke-width="0.1">1,500</text><line x1="407.20" y1="277.30" x2="409.40" y2="277.30" stroke="#8a8a8a" stroke-width="0.8" /><text x="403.20" y="280.00" font-size="8.0" text-anchor="end" stroke="#1a1a1a" stroke-width="0.1">1,000</text><line x1="407.20" y1="302.00" x2="409.40" y2="302.00" stroke="#8a8a8a" stroke-width="0.8" /><text x="403.20" y="304.70" font-size="8.0" text-anchor="end" stroke="#1a1a1a" stroke-width="0.1">500</text><line x1="407.20" y1="326.60" x2="409.40" y2="326.60" stroke="#8a8a8a" stroke-width="0.8" /><text x="403.20" y="329.30" font-size="8.0" text-anchor="end" stroke="#1a1a1a" stroke-width="0.1">0</text><line x1="409.40" y1="326.60" x2="455.50" y2="326.60" stroke="#8a8a8a" stroke-width="0.8" /><line x1="416.30" y1="326.60" x2="416.30" y2="328.80" stroke="#8a8a8a" stroke-width="0.8" /><line x1="426.80" y1="326.60" x2="426.80" y2="328.80" stroke="#8a8a8a" stroke-width="0.8" /><line x1="437.70" y1="326.60" x2="437.70" y2="328.80" stroke="#8a8a8a" stroke-width="0.8" /><line x1="448.60" y1="326.60" x2="448.60" y2="328.80" stroke="#8a8a8a" stroke-width="0.8" /><circle cx="418.50" cy="285.60" r="1.65" fill="#1d3fd6" /><circle cx="414.00" cy="288.20" r="1.65" fill="#1d3fd6" /><circle cx="414.00" cy="296.20" r="1.65" fill="#1d3fd6" /><circle cx="418.50" cy="294.90" r="1.65" fill="#1d3fd6" /><line x1="412.10" y1="291.30" x2="420.50" y2="291.30" stroke="#1d3fd6" stroke-width="0.9" /><line x1="416.30" y1="288.80" x2="416.30" y2="293.80" stroke="#1d3fd6" stroke-width="0.9" /><line x1="414.30" y1="288.80" x2="418.30" y2="288.80" stroke="#1d3fd6" stroke-width="0.9" /><line x1="414.30" y1="293.80" x2="418.30" y2="293.80" stroke="#1d3fd6" stroke-width="0.9" /><rect x="425.25" y="261.55" width="3.10" height="3.10" fill="#1d3fd6" /><rect x="423.75" y="265.15" width="3.10" height="3.10" fill="#1d3fd6" /><rect x="426.95" y="265.15" width="3.10" height="3.10" fill="#1d3fd6" /><rect x="425.25" y="274.75" width="3.10" height="3.10" fill="#1d3fd6" /><line x1="422.60" y1="267.30" x2="431.00" y2="267.30" stroke="#1d3fd6" stroke-width="0.9" /><line x1="426.80" y1="265.00" x2="426.80" y2="270.00" stroke="#1d3fd6" stroke-width="0.9" /><line x1="424.80" y1="265.00" x2="428.80" y2="265.00" stroke="#1d3fd6" stroke-width="0.9" /><line x1="424.80" y1="270.00" x2="428.80" y2="270.00" stroke="#1d3fd6" stroke-width="0.9" /><circle cx="437.70" cy="305.10" r="1.65" fill="#f2361e" /><circle cx="435.80" cy="307.50" r="1.65" fill="#f2361e" /><circle cx="439.60" cy="310.00" r="1.65" fill="#f2361e" /><circle cx="437.70" cy="319.90" r="1.65" fill="#f2361e" /><line x1="433.50" y1="312.20" x2="441.90" y2="312.20" stroke="#f2361e" stroke-width="0.9" /><line x1="437.70" y1="309.60" x2="437.70" y2="314.80" stroke="#f2361e" stroke-width="0.9" /><line x1="435.70" y1="309.60" x2="439.70" y2="309.60" stroke="#f2361e" stroke-width="0.9" /><line x1="435.70" y1="314.80" x2="439.70" y2="314.80" stroke="#f2361e" stroke-width="0.9" /><rect x="447.05" y="299.95" width="3.10" height="3.10" fill="#f2361e" /><rect x="447.05" y="306.75" width="3.10" height="3.10" fill="#f2361e" /><rect x="447.05" y="311.25" width="3.10" height="3.10" fill="#f2361e" /><rect x="447.05" y="315.75" width="3.10" height="3.10" fill="#f2361e" /><line x1="444.40" y1="310.30" x2="452.80" y2="310.30" stroke="#f2361e" stroke-width="0.9" /><line x1="448.60" y1="307.50" x2="448.60" y2="313.20" stroke="#f2361e" stroke-width="0.9" /><line x1="446.60" y1="307.50" x2="450.60" y2="307.50" stroke="#f2361e" stroke-width="0.9" /><line x1="446.60" y1="313.20" x2="450.60" y2="313.20" stroke="#f2361e" stroke-width="0.9" /><line x1="424.50" y1="257.30" x2="449.90" y2="257.30" stroke="#333" stroke-width="0.9" /><text x="436.60" y="258.00" font-size="9.5" text-anchor="middle" stroke="#1a1a1a" stroke-width="0.1">****</text><text x="369.38" y="289.00" font-size="8.0" text-anchor="middle" stroke="#1a1a1a" stroke-width="0.1" transform="rotate(-90 369.38 289.00)">IL-12 concentration</text><text x="378.68" y="289.00" font-size="8.0" text-anchor="middle" stroke="#1a1a1a" stroke-width="0.1" transform="rotate(-90 378.68 289.00)">(pg ml<tspan font-size="5.2" dy="-3">−1</tspan><tspan dy="3">)</tspan></text><text x="422.50" y="337.40" font-size="8.0" text-anchor="end" stroke="#1a1a1a" stroke-width="0.1" transform="rotate(-45 422.50 337.40)"><tspan font-style="italic">Stat3</tspan><tspan font-size="6.08" dy="-3.84">+/+</tspan></text><text x="433.00" y="337.40" font-size="8.0" text-anchor="end" stroke="#1a1a1a" stroke-width="0.1" transform="rotate(-45 433.00 337.40)"><tspan font-style="italic">Stat3</tspan><tspan font-size="6.08" dy="-3.84">−/−</tspan></text><text x="443.90" y="337.40" font-size="8.0" text-anchor="end" stroke="#1a1a1a" stroke-width="0.1" transform="rotate(-45 443.90 337.40)"><tspan font-style="italic">Stat3</tspan><tspan font-size="6.08" dy="-3.84">+/+</tspan></text><text x="454.80" y="337.40" font-size="8.0" text-anchor="end" stroke="#1a1a1a" stroke-width="0.1" transform="rotate(-45 454.80 337.40)"><tspan font-style="italic">Stat3</tspan><tspan font-size="6.08" dy="-3.84">−/−</tspan></text><line x1="394.00" y1="358.20" x2="412.80" y2="358.20" stroke="#222" stroke-width="0.9" /><line x1="416.80" y1="358.20" x2="435.60" y2="358.20" stroke="#222" stroke-width="0.9" /><text x="401.20" y="368.10" font-size="8.0" text-anchor="middle" stroke="#1a1a1a" stroke-width="0.1">DMSO</text><text x="428.50" y="368.10" font-size="8.0" text-anchor="middle" stroke="#1a1a1a" stroke-width="0.1">STAT5i</text><text x="462.30" y="240.20" font-size="11" font-weight="bold" fill="#000" stroke="#000" stroke-width="0.1">n</text><rect x="488.30" y="251.20" width="9.44" height="6.95" fill="#e6fae6" /><rect x="497.44" y="251.20" width="9.44" height="6.95" fill="#d6f7d6" /><rect x="506.57" y="251.20" width="9.44" height="6.95" fill="#1fe01f" /><rect x="515.71" y="251.20" width="9.44" height="6.95" fill="#7fe87f" /><rect x="524.85" y="251.20" width="9.44" height="6.95" fill="#ff9a9a" /><rect x="533.99" y="251.20" width="9.44" height="6.95" fill="#ffb2b2" /><rect x="543.12" y="251.20" width="9.44" height="6.95" fill="#ffb0b0" /><rect x="552.26" y="251.20" width="9.44" height="6.95" fill="#ff2a1a" /><text x="485.60" y="257.07" font-size="7.2" text-anchor="end" font-style="italic" fill="#333" stroke="#333" stroke-width="0.1">Cd74</text><rect x="488.30" y="257.85" width="9.44" height="6.95" fill="#fff0f0" /><rect x="497.44" y="257.85" width="9.44" height="6.95" fill="#6ee46e" /><rect x="506.57" y="257.85" width="9.44" height="6.95" fill="#22e022" /><rect x="515.71" y="257.85" width="9.44" height="6.95" fill="#a8f0a8" /><rect x="524.85" y="257.85" width="9.44" height="6.95" fill="#ff7a7a" /><rect x="533.99" y="257.85" width="9.44" height="6.95" fill="#ffa2a2" /><rect x="543.12" y="257.85" width="9.44" height="6.95" fill="#ffa4a4" /><rect x="552.26" y="257.85" width="9.44" height="6.95" fill="#ff5050" /><text x="485.60" y="263.73" font-size="7.2" text-anchor="end" font-style="italic" fill="#333" stroke="#333" stroke-width="0.1">H2-Aa</text><rect x="488.30" y="264.50" width="9.44" height="6.95" fill="#ffd0d0" /><rect x="497.44" y="264.50" width="9.44" height="6.95" fill="#80e880" /><rect x="506.57" y="264.50" width="9.44" height="6.95" fill="#22e022" /><rect x="515.71" y="264.50" width="9.44" height="6.95" fill="#90ea90" /><rect x="524.85" y="264.50" width="9.44" height="6.95" fill="#ff7272" /><rect x="533.99" y="264.50" width="9.44" height="6.95" fill="#ffe8e8" /><rect x="543.12" y="264.50" width="9.44" height="6.95" fill="#ffa2a2" /><rect x="552.26" y="264.50" width="9.44" height="6.95" fill="#ff5050" /><text x="485.60" y="270.38" font-size="7.2" text-anchor="end" font-style="italic" fill="#333" stroke="#333" stroke-width="0.1">H2-Ab1</text><rect x="488.30" y="271.15" width="9.44" height="6.95" fill="#f6fff6" /><rect x="497.44" y="271.15" width="9.44" height="6.95" fill="#80e880" /><rect x="506.57" y="271.15" width="9.44" height="6.95" fill="#30e030" /><rect x="515.71" y="271.15" width="9.44" height="6.95" fill="#a0f0a0" /><rect x="524.85" y="271.15" width="9.44" height="6.95" fill="#ff8080" /><rect x="533.99" y="271.15" width="9.44" height="6.95" fill="#ffd8d8" /><rect x="543.12" y="271.15" width="9.44" height="6.95" fill="#ffa2a2" /><rect x="552.26" y="271.15" width="9.44" height="6.95" fill="#ff3424" /><text x="485.60" y="277.02" font-size="7.2" text-anchor="end" font-style="italic" fill="#333" stroke="#333" stroke-width="0.1">H2-Eb1</text><rect x="488.30" y="277.80" width="9.44" height="6.95" fill="#82e882" /><rect x="497.44" y="277.80" width="9.44" height="6.95" fill="#30e030" /><rect x="506.57" y="277.80" width="9.44" height="6.95" fill="#80e880" /><rect x="515.71" y="277.80" width="9.44" height="6.95" fill="#ff5252" /><rect x="524.85" y="277.80" width="9.44" height="6.95" fill="#ff7272" /><rect x="533.99" y="277.80" width="9.44" height="6.95" fill="#fff0f0" /><rect x="543.12" y="277.80" width="9.44" height="6.95" fill="#ffa2a2" /><rect x="552.26" y="277.80" width="9.44" height="6.95" fill="#ffb8b8" /><text x="485.60" y="283.68" font-size="7.2" text-anchor="end" font-style="italic" fill="#333" stroke="#333" stroke-width="0.1">H2-Eb2</text><rect x="488.30" y="284.45" width="9.44" height="6.95" fill="#88e888" /><rect x="497.44" y="284.45" width="9.44" height="6.95" fill="#c0f4c0" /><rect x="506.57" y="284.45" width="9.44" height="6.95" fill="#30e030" /><rect x="515.71" y="284.45" width="9.44" height="6.95" fill="#c2f4c2" /><rect x="524.85" y="284.45" width="9.44" height="6.95" fill="#ff8888" /><rect x="533.99" y="284.45" width="9.44" height="6.95" fill="#ff8888" /><rect x="543.12" y="284.45" width="9.44" height="6.95" fill="#ffa2a2" /><rect x="552.26" y="284.45" width="9.44" height="6.95" fill="#ff5252" /><text x="485.60" y="290.32" font-size="7.2" text-anchor="end" font-style="italic" fill="#333" stroke="#333" stroke-width="0.1">H2-D1</text><rect x="488.30" y="291.10" width="9.44" height="6.95" fill="#92ea92" /><rect x="497.44" y="291.10" width="9.44" height="6.95" fill="#b0f0b0" /><rect x="506.57" y="291.10" width="9.44" height="6.95" fill="#40e040" /><rect x="515.71" y="291.10" width="9.44" height="6.95" fill="#a2f0a2" /><rect x="524.85" y="291.10" width="9.44" height="6.95" fill="#ff7878" /><rect x="533.99" y="291.10" width="9.44" height="6.95" fill="#ff9a9a" /><rect x="543.12" y="291.10" width="9.44" height="6.95" fill="#ffa2a2" /><rect x="552.26" y="291.10" width="9.44" height="6.95" fill="#ff5252" /><text x="485.60" y="296.98" font-size="7.2" text-anchor="end" font-style="italic" fill="#333" stroke="#333" stroke-width="0.1">H2-K1</text><rect x="488.30" y="297.75" width="9.44" height="6.95" fill="#40e040" /><rect x="497.44" y="297.75" width="9.44" height="6.95" fill="#72e472" /><rect x="506.57" y="297.75" width="9.44" height="6.95" fill="#88e888" /><rect x="515.71" y="297.75" width="9.44" height="6.95" fill="#ff5050" /><rect x="524.85" y="297.75" width="9.44" height="6.95" fill="#f8fff8" /><rect x="533.99" y="297.75" width="9.44" height="6.95" fill="#ffaaaa" /><rect x="543.12" y="297.75" width="9.44" height="6.95" fill="#ff6a6a" /><rect x="552.26" y="297.75" width="9.44" height="6.95" fill="#ffb2b2" /><text x="485.60" y="303.62" font-size="7.2" text-anchor="end" font-style="italic" fill="#333" stroke="#333" stroke-width="0.1">Il12b</text><rect x="488.30" y="304.40" width="9.44" height="6.95" fill="#22e022" /><rect x="497.44" y="304.40" width="9.44" height="6.95" fill="#f2fff2" /><rect x="506.57" y="304.40" width="9.44" height="6.95" fill="#c8f8c8" /><rect x="515.71" y="304.40" width="9.44" height="6.95" fill="#a8f0a8" /><rect x="524.85" y="304.40" width="9.44" height="6.95" fill="#ffe0e0" /><rect x="533.99" y="304.40" width="9.44" height="6.95" fill="#ff2200" /><rect x="543.12" y="304.40" width="9.44" height="6.95" fill="#ff6262" /><rect x="552.26" y="304.40" width="9.44" height="6.95" fill="#ffffff" /><text x="485.60" y="310.28" font-size="7.2" text-anchor="end" font-style="italic" fill="#333" stroke="#333" stroke-width="0.1">Il12rb2</text><rect x="488.30" y="311.05" width="9.44" height="6.95" fill="#c8f8c8" /><rect x="497.44" y="311.05" width="9.44" height="6.95" fill="#62e062" /><rect x="506.57" y="311.05" width="9.44" height="6.95" fill="#82e882" /><rect x="515.71" y="311.05" width="9.44" height="6.95" fill="#eafbea" /><rect x="524.85" y="311.05" width="9.44" height="6.95" fill="#ff4242" /><rect x="533.99" y="311.05" width="9.44" height="6.95" fill="#92ea92" /><rect x="543.12" y="311.05" width="9.44" height="6.95" fill="#ff8282" /><rect x="552.26" y="311.05" width="9.44" height="6.95" fill="#ff4646" /><text x="485.60" y="316.93" font-size="7.2" text-anchor="end" font-style="italic" fill="#333" stroke="#333" stroke-width="0.1">Cd40</text><rect x="488.30" y="251.20" width="73.10" height="66.50" fill="none" stroke="#444" stroke-width="0.8" /><line x1="488.80" y1="320.20" x2="523.00" y2="320.20" stroke="#222" stroke-width="0.9" /><line x1="525.20" y1="320.20" x2="559.30" y2="320.20" stroke="#222" stroke-width="0.9" /><text x="505.50" y="330.20" font-size="8.0" text-anchor="middle" stroke="#1a1a1a" stroke-width="0.1"><tspan font-style="italic">Stat3</tspan><tspan font-size="6.08" dy="-3.84">+/+</tspan></text><text x="541.80" y="330.20" font-size="8.0" text-anchor="middle" stroke="#1a1a1a" stroke-width="0.1"><tspan font-style="italic">Stat3</tspan><tspan font-size="6.08" dy="-3.84">−/−</tspan></text><text x="522.00" y="342.20" font-size="8.0" text-anchor="middle" stroke="#1a1a1a" stroke-width="0.1"><tspan font-style="italic">z</tspan>-score</text><rect x="506.10" y="344.10" width="33.40" height="7.70" fill="url(#zg)" stroke="#555" stroke-width="0.6" /><line x1="512.60" y1="344.10" x2="512.60" y2="345.60" stroke="#555" stroke-width="0.5" /><line x1="512.60" y1="350.30" x2="512.60" y2="351.80" stroke="#555" stroke-width="0.5" /><text x="512.60" y="360.40" font-size="8.0" text-anchor="middle" stroke="#1a1a1a" stroke-width="0.1">−1</text><line x1="522.70" y1="344.10" x2="522.70" y2="345.60" stroke="#555" stroke-width="0.5" /><line x1="522.70" y1="350.30" x2="522.70" y2="351.80" stroke="#555" stroke-width="0.5" /><text x="522.70" y="360.40" font-size="8.0" text-anchor="middle" stroke="#1a1a1a" stroke-width="0.1">0</text><line x1="532.30" y1="344.10" x2="532.30" y2="345.60" stroke="#555" stroke-width="0.5" /><line x1="532.30" y1="350.30" x2="532.30" y2="351.80" stroke="#555" stroke-width="0.5" /><text x="532.30" y="360.40" font-size="8.0" text-anchor="middle" stroke="#1a1a1a" stroke-width="0.1">1</text><text x="572.00" y="240.20" font-size="11" font-weight="bold" fill="#000" stroke="#000" stroke-width="0.1">o</text><text x="601.10" y="240.40" font-size="8.0" stroke="#1a1a1a" stroke-width="0.1"><tspan font-style="italic">Stat3</tspan><tspan font-size="6.08" dy="-3.84">−/−</tspan><tspan dy="3.84"> </tspan>vs <tspan font-style="italic">Stat3</tspan><tspan font-size="6.08" dy="-3.84">+/+</tspan></text><line x1="599.40" y1="242.90" x2="599.40" y2="339.10" stroke="#8a8a8a" stroke-width="0.8" /><line x1="597.20" y1="242.90" x2="599.40" y2="242.90" stroke="#8a8a8a" stroke-width="0.8" /><text x="593.60" y="245.60" font-size="8.0" text-anchor="end" stroke="#1a1a1a" stroke-width="0.1">8</text><line x1="597.20" y1="267.20" x2="599.40" y2="267.20" stroke="#8a8a8a" stroke-width="0.8" /><text x="593.60" y="269.90" font-size="8.0" text-anchor="end" stroke="#1a1a1a" stroke-width="0.1">6</text><line x1="597.20" y1="291.40" x2="599.40" y2="291.40" stroke="#8a8a8a" stroke-width="0.8" /><text x="593.60" y="294.10" font-size="8.0" text-anchor="end" stroke="#1a1a1a" stroke-width="0.1">4</text><line x1="597.20" y1="315.20" x2="599.40" y2="315.20" stroke="#8a8a8a" stroke-width="0.8" /><text x="593.60" y="317.90" font-size="8.0" text-anchor="end" stroke="#1a1a1a" stroke-width="0.1">2</text><line x1="575.90" y1="339.10" x2="670.40" y2="339.10" stroke="#8a8a8a" stroke-width="0.8" /><line x1="575.90" y1="339.10" x2="575.90" y2="341.30" stroke="#8a8a8a" stroke-width="0.8" /><text x="575.90" y="352.00" font-size="8.0" text-anchor="middle" stroke="#1a1a1a" stroke-width="0.1">0.5</text><line x1="599.40" y1="339.10" x2="599.40" y2="341.30" stroke="#8a8a8a" stroke-width="0.8" /><text x="599.40" y="352.00" font-size="8.0" text-anchor="middle" stroke="#1a1a1a" stroke-width="0.1">0</text><line x1="623.10" y1="339.10" x2="623.10" y2="341.30" stroke="#8a8a8a" stroke-width="0.8" /><text x="623.10" y="352.00" font-size="8.0" text-anchor="middle" stroke="#1a1a1a" stroke-width="0.1">0.5</text><line x1="646.60" y1="339.10" x2="646.60" y2="341.30" stroke="#8a8a8a" stroke-width="0.8" /><text x="646.60" y="352.00" font-size="8.0" text-anchor="middle" stroke="#1a1a1a" stroke-width="0.1">1.0</text><line x1="670.40" y1="339.10" x2="670.40" y2="341.30" stroke="#8a8a8a" stroke-width="0.8" /><text x="670.40" y="352.00" font-size="8.0" text-anchor="middle" stroke="#1a1a1a" stroke-width="0.1">1.5</text><text x="622.70" y="364.40" font-size="8.0" text-anchor="middle" stroke="#1a1a1a" stroke-width="0.1">log<tspan font-size="5.2" dy="1.8">2</tspan><tspan dy="-1.8">(fold change)</tspan></text><text x="578.78" y="291.40" font-size="8.0" text-anchor="middle" stroke="#1a1a1a" stroke-width="0.1" transform="rotate(-90 578.78 291.40)">−log<tspan font-size="5.2" dy="1.8">10</tspan><tspan dy="-1.8">(</tspan><tspan font-style="italic">P</tspan> value)</text><line x1="627.60" y1="266.70" x2="608.20" y2="304.60" stroke="#111" stroke-width="0.8" /><line x1="611.70" y1="280.80" x2="608.20" y2="304.60" stroke="#111" stroke-width="0.8" /><line x1="629.80" y1="310.70" x2="608.20" y2="307.80" stroke="#111" stroke-width="0.8" /><circle cx="661.90" cy="270.20" r="2.10" fill="#f19a2a" stroke="#e08a18" stroke-width="0.4"/><circle cx="624.00" cy="281.70" r="2.10" fill="#f19a2a" stroke="#e08a18" stroke-width="0.4"/><circle cx="621.00" cy="302.60" r="2.10" fill="#f19a2a" stroke="#e08a18" stroke-width="0.4"/><circle cx="608.20" cy="303.60" r="2.10" fill="#f19a2a" stroke="#e08a18" stroke-width="0.4"/><circle cx="608.20" cy="306.30" r="2.10" fill="#f19a2a" stroke="#e08a18" stroke-width="0.4"/><circle cx="608.20" cy="307.80" r="2.10" fill="#f19a2a" stroke="#e08a18" stroke-width="0.4"/><circle cx="606.80" cy="312.00" r="2.10" fill="#f19a2a" stroke="#e08a18" stroke-width="0.4"/><circle cx="611.70" cy="318.20" r="2.10" fill="#f19a2a" stroke="#e08a18" stroke-width="0.4"/><circle cx="619.30" cy="316.20" r="2.10" fill="#f19a2a" stroke="#e08a18" stroke-width="0.4"/><circle cx="598.80" cy="337.90" r="2.00" fill="#000" /><circle cx="606.40" cy="332.10" r="2.00" fill="#000" /><circle cx="608.70" cy="331.70" r="2.00" fill="#000" /><circle cx="618.70" cy="328.70" r="2.00" fill="#000" /><circle cx="636.40" cy="328.70" r="2.00" fill="#000" /><text x="662.80" y="265.50" font-size="8.0" text-anchor="middle" font-style="italic" stroke="#1a1a1a" stroke-width="0.1">Irf7</text><text x="627.00" y="284.40" font-size="8.0" font-style="italic" stroke="#1a1a1a" stroke-width="0.1">Tlr4</text><text x="625.30" y="302.90" font-size="8.0" font-style="italic" stroke="#1a1a1a" stroke-width="0.1">Il12rb2</text><text x="621.70" y="321.70" font-size="8.0" font-style="italic" stroke="#1a1a1a" stroke-width="0.1">Cd40</text><text x="617.50" y="265.00" font-size="8.0" font-style="italic" stroke="#1a1a1a" stroke-width="0.1">Tnfsf8</text><text x="601.10" y="274.70" font-size="8.0" font-style="italic" stroke="#1a1a1a" stroke-width="0.1">H2-Aa</text><text x="632.00" y="313.40" font-size="8.0" font-style="italic" stroke="#1a1a1a" stroke-width="0.1">H-Ab12</text><circle cx="650.80" cy="326.10" r="1.90" fill="#f19a2a" /><text x="655.20" y="328.80" font-size="8.0" stroke="#1a1a1a" stroke-width="0.1"><tspan font-style="italic">P</tspan> &lt; 0.05</text><circle cx="650.80" cy="333.10" r="1.90" fill="#000" /><text x="655.20" y="335.80" font-size="8.0" stroke="#1a1a1a" stroke-width="0.1">NS</text><text x="-0.60" y="480.60" font-size="11" font-weight="bold" fill="#000" stroke="#000" stroke-width="0.1">p</text><rect x="32.40" y="496.80" width="103.40" height="51.20" fill="none" stroke="#888" stroke-width="0.8" /><line x1="30.20" y1="502.10" x2="32.40" y2="502.10" stroke="#888" stroke-width="0.8" /><text x="27.60" y="504.80" font-size="8.0" text-anchor="end" stroke="#1a1a1a" stroke-width="0.1">0.6</text><line x1="30.20" y1="514.80" x2="32.40" y2="514.80" stroke="#888" stroke-width="0.8" /><text x="27.60" y="517.50" font-size="8.0" text-anchor="end" stroke="#1a1a1a" stroke-width="0.1">0.4</text><line x1="30.20" y1="527.90" x2="32.40" y2="527.90" stroke="#888" stroke-width="0.8" /><text x="27.60" y="530.60" font-size="8.0" text-anchor="end" stroke="#1a1a1a" stroke-width="0.1">0.2</text><line x1="30.20" y1="542.10" x2="32.40" y2="542.10" stroke="#888" stroke-width="0.8" /><text x="27.60" y="544.80" font-size="8.0" text-anchor="end" stroke="#1a1a1a" stroke-width="0.1">0</text><line x1="36.80" y1="548.00" x2="36.80" y2="550.20" stroke="#888" stroke-width="0.8" /><text x="36.80" y="561.60" font-size="8.0" text-anchor="middle" stroke="#1a1a1a" stroke-width="0.1">0</text><line x1="60.90" y1="548.00" x2="60.90" y2="550.20" stroke="#888" stroke-width="0.8" /><text x="60.90" y="561.60" font-size="8.0" text-anchor="middle" stroke="#1a1a1a" stroke-width="0.1">3,000</text><line x1="85.40" y1="548.00" x2="85.40" y2="550.20" stroke="#888" stroke-width="0.8" /><text x="85.40" y="561.60" font-size="8.0" text-anchor="middle" stroke="#1a1a1a" stroke-width="0.1">6,000</text><line x1="110.60" y1="548.00" x2="110.60" y2="550.20" stroke="#888" stroke-width="0.8" /><text x="110.60" y="561.60" font-size="8.0" text-anchor="middle" stroke="#1a1a1a" stroke-width="0.1">9,000</text><line x1="135.30" y1="548.00" x2="135.30" y2="550.20" stroke="#888" stroke-width="0.8" /><text x="135.30" y="561.60" font-size="8.0" text-anchor="middle" stroke="#1a1a1a" stroke-width="0.1">12,000</text><line x1="37.50" y1="539.60" x2="37.50" y2="544.60" stroke="#999" stroke-width="0.5" /><line x1="39.00" y1="539.60" x2="39.00" y2="544.60" stroke="#999" stroke-width="0.5" /><line x1="40.50" y1="539.60" x2="40.50" y2="544.60" stroke="#999" stroke-width="0.5" /><line x1="41.50" y1="539.60" x2="41.50" y2="544.60" stroke="#999" stroke-width="0.5" /><line x1="43.00" y1="539.60" x2="43.00" y2="544.60" stroke="#999" stroke-width="0.5" /><line x1="44.50" y1="539.60" x2="44.50" y2="544.60" stroke="#999" stroke-width="0.5" /><line x1="46.00" y1="539.60" x2="46.00" y2="544.60" stroke="#999" stroke-width="0.5" /><line x1="48.00" y1="539.60" x2="48.00" y2="544.60" stroke="#999" stroke-width="0.5" /><line x1="50.00" y1="539.60" x2="50.00" y2="544.60" stroke="#999" stroke-width="0.5" /><line x1="53.00" y1="539.60" x2="53.00" y2="544.60" stroke="#999" stroke-width="0.5" /><line x1="57.00" y1="539.60" x2="57.00" y2="544.60" stroke="#999" stroke-width="0.5" /><line x1="62.00" y1="539.60" x2="62.00" y2="544.60" stroke="#999" stroke-width="0.5" /><line x1="79.00" y1="539.60" x2="79.00" y2="544.60" stroke="#999" stroke-width="0.5" /><line x1="88.00" y1="539.60" x2="88.00" y2="544.60" stroke="#999" stroke-width="0.5" /><line x1="116.00" y1="539.60" x2="116.00" y2="544.60" stroke="#999" stroke-width="0.5" /><line x1="124.00" y1="539.60" x2="124.00" y2="544.60" stroke="#999" stroke-width="0.5" /><line x1="32.40" y1="542.10" x2="135.80" y2="542.10" stroke="#777" stroke-width="1.1" /><path d="M36.79,542.14 L37.66,534.48 L38.98,524.63 L40.51,514.77 L42.26,507.77 L43.79,506.02 L45.98,503.83 L47.73,504.92 L49.27,502.73 L50.80,499.45 L52.55,500.54 L54.74,499.89 L57.37,501.64 L59.12,502.73 L63.50,504.26 L116.05,542.14 L122.62,544.99 L125.90,544.33 L129.19,546.52 L131.38,542.14" fill="none" stroke="#74e374" stroke-width="0.8" /><text x="84.10" y="483.80" font-size="8.0" text-anchor="middle" stroke="#1a1a1a" stroke-width="0.1">Antigen presentation</text><text x="84.10" y="494.20" font-size="8.0" text-anchor="middle" stroke="#1a1a1a" stroke-width="0.1"><tspan font-style="italic">Stat3</tspan><tspan font-size="6.08" dy="-3.84">−/−</tspan><tspan dy="3.84"> </tspan>vs <tspan font-style="italic">Stat3</tspan><tspan font-size="6.08" dy="-3.84">+/+</tspan></text><text x="93.00" y="509.80" font-size="7.7" stroke="#1a1a1a" stroke-width="0.1">NES = 1.62</text><text x="93.70" y="517.60" font-size="8.0" stroke="#1a1a1a" stroke-width="0.1"><tspan font-style="italic">P</tspan> = 0.02</text><text x="84.60" y="573.00" font-size="8.0" text-anchor="middle" stroke="#1a1a1a" stroke-width="0.1">Position in the ranked list of genes</text><text x="9.48" y="524.40" font-size="8.0" text-anchor="middle" stroke="#1a1a1a" stroke-width="0.1" transform="rotate(-90 9.48 524.40)">Enrichment score</text><text x="155.20" y="480.40" font-size="11" font-weight="bold" fill="#000" stroke="#000" stroke-width="0.1">q</text><rect x="182.70" y="497.40" width="103.60" height="51.40" fill="none" stroke="#888" stroke-width="0.8" /><line x1="180.50" y1="508.30" x2="182.70" y2="508.30" stroke="#888" stroke-width="0.8" /><text x="177.40" y="511.00" font-size="8.0" text-anchor="end" stroke="#1a1a1a" stroke-width="0.1">0.4</text><line x1="180.50" y1="524.30" x2="182.70" y2="524.30" stroke="#888" stroke-width="0.8" /><text x="177.40" y="527.00" font-size="8.0" text-anchor="end" stroke="#1a1a1a" stroke-width="0.1">0.2</text><line x1="180.50" y1="540.50" x2="182.70" y2="540.50" stroke="#888" stroke-width="0.8" /><text x="177.40" y="543.20" font-size="8.0" text-anchor="end" stroke="#1a1a1a" stroke-width="0.1">0</text><line x1="187.50" y1="548.80" x2="187.50" y2="551.00" stroke="#888" stroke-width="0.8" /><text x="187.50" y="562.40" font-size="8.0" text-anchor="middle" stroke="#1a1a1a" stroke-width="0.1">0</text><line x1="211.80" y1="548.80" x2="211.80" y2="551.00" stroke="#888" stroke-width="0.8" /><text x="211.80" y="562.40" font-size="8.0" text-anchor="middle" stroke="#1a1a1a" stroke-width="0.1">3,000</text><line x1="236.30" y1="548.80" x2="236.30" y2="551.00" stroke="#888" stroke-width="0.8" /><text x="236.30" y="562.40" font-size="8.0" text-anchor="middle" stroke="#1a1a1a" stroke-width="0.1">6,000</text><line x1="261.10" y1="548.80" x2="261.10" y2="551.00" stroke="#888" stroke-width="0.8" /><text x="261.10" y="562.40" font-size="8.0" text-anchor="middle" stroke="#1a1a1a" stroke-width="0.1">9,000</text><line x1="285.60" y1="548.80" x2="285.60" y2="551.00" stroke="#888" stroke-width="0.8" /><text x="285.60" y="562.40" font-size="8.0" text-anchor="middle" stroke="#1a1a1a" stroke-width="0.1">12,000</text><line x1="200.90" y1="497.40" x2="200.90" y2="548.80" stroke="#f4b0b0" stroke-width="0.6" stroke-dasharray="0.8,0.8" /><line x1="188.50" y1="538.00" x2="188.50" y2="543.00" stroke="#999" stroke-width="0.5" /><line x1="190.50" y1="538.00" x2="190.50" y2="543.00" stroke="#999" stroke-width="0.5" /><line x1="192.00" y1="538.00" x2="192.00" y2="543.00" stroke="#999" stroke-width="0.5" /><line x1="194.00" y1="538.00" x2="194.00" y2="543.00" stroke="#999" stroke-width="0.5" /><line x1="196.00" y1="538.00" x2="196.00" y2="543.00" stroke="#999" stroke-width="0.5" /><line x1="198.00" y1="538.00" x2="198.00" y2="543.00" stroke="#999" stroke-width="0.5" /><line x1="200.00" y1="538.00" x2="200.00" y2="543.00" stroke="#999" stroke-width="0.5" /><line x1="203.00" y1="538.00" x2="203.00" y2="543.00" stroke="#999" stroke-width="0.5" /><line x1="210.00" y1="538.00" x2="210.00" y2="543.00" stroke="#999" stroke-width="0.5" /><line x1="214.00" y1="538.00" x2="214.00" y2="543.00" stroke="#999" stroke-width="0.5" /><line x1="218.00" y1="538.00" x2="218.00" y2="543.00" stroke="#999" stroke-width="0.5" /><line x1="229.00" y1="538.00" x2="229.00" y2="543.00" stroke="#999" stroke-width="0.5" /><line x1="236.00" y1="538.00" x2="236.00" y2="543.00" stroke="#999" stroke-width="0.5" /><line x1="238.00" y1="538.00" x2="238.00" y2="543.00" stroke="#999" stroke-width="0.5" /><line x1="244.00" y1="538.00" x2="244.00" y2="543.00" stroke="#999" stroke-width="0.5" /><line x1="246.00" y1="538.00" x2="246.00" y2="543.00" stroke="#999" stroke-width="0.5" /><line x1="251.00" y1="538.00" x2="251.00" y2="543.00" stroke="#999" stroke-width="0.5" /><line x1="254.00" y1="538.00" x2="254.00" y2="543.00" stroke="#999" stroke-width="0.5" /><line x1="259.00" y1="538.00" x2="259.00" y2="543.00" stroke="#999" stroke-width="0.5" /><line x1="275.00" y1="538.00" x2="275.00" y2="543.00" stroke="#999" stroke-width="0.5" /><line x1="279.00" y1="538.00" x2="279.00" y2="543.00" stroke="#999" stroke-width="0.5" /><line x1="182.70" y1="540.50" x2="286.30" y2="540.50" stroke="#777" stroke-width="1.1" /><path d="M187.51,540.51 L188.17,533.50 L190.36,515.98 L193.65,505.03 L196.49,502.41 L198.02,500.65 L200.87,499.12 L203.50,500.65 L207.88,505.03 L211.16,503.94 L214.45,504.60 L218.83,508.32 L223.21,509.41 L227.58,514.89 L247.29,528.68 L258.24,536.78 L267.00,541.16 L271.38,544.45 L274.66,547.73 L276.85,545.54 L280.14,540.07" fill="none" stroke="#74e374" stroke-width="0.8" /><text x="234.50" y="484.40" font-size="8.0" text-anchor="middle" stroke="#1a1a1a" stroke-width="0.1">IL-12 production</text><text x="234.50" y="494.80" font-size="8.0" text-anchor="middle" stroke="#1a1a1a" stroke-width="0.1"><tspan font-style="italic">Stat3</tspan><tspan font-size="6.08" dy="-3.84">−/−</tspan><tspan dy="3.84"> </tspan>vs <tspan font-style="italic">Stat3</tspan><tspan font-size="6.08" dy="-3.84">+/+</tspan></text><text x="242.90" y="508.20" font-size="7.7" stroke="#1a1a1a" stroke-width="0.1">NES = 1.66</text><text x="242.50" y="519.80" font-size="8.0" stroke="#1a1a1a" stroke-width="0.1"><tspan font-style="italic">P</tspan> = 0.02</text><text x="235.00" y="573.80" font-size="8.0" text-anchor="middle" stroke="#1a1a1a" stroke-width="0.1">Position in the ranked list of genes</text><text x="161.48" y="525.10" font-size="8.0" text-anchor="middle" stroke="#1a1a1a" stroke-width="0.1" transform="rotate(-90 161.48 525.10)">Enrichment score</text><text x="305.20" y="384.60" font-size="11" font-weight="bold" fill="#000" stroke="#000" stroke-width="0.1">r</text><text x="440.90" y="405.55" font-size="6.68" text-anchor="end" stroke="#1a1a1a" stroke-width="0.1">Antigen processing and presentation via MHC</text><text x="440.90" y="412.95" font-size="6.68" text-anchor="end" stroke="#1a1a1a" stroke-width="0.1">CCR chemokine receptor binding</text><text x="440.90" y="420.35" font-size="6.68" text-anchor="end" stroke="#1a1a1a" stroke-width="0.1">Phagocytic vesicle</text><text x="440.90" y="427.85" font-size="6.68" text-anchor="end" stroke="#1a1a1a" stroke-width="0.1">IL-12 production</text><text x="440.90" y="435.15" font-size="6.68" text-anchor="end" stroke="#1a1a1a" stroke-width="0.1">Regulation of IL-12 production</text><text x="440.90" y="442.45" font-size="6.68" text-anchor="end" stroke="#1a1a1a" stroke-width="0.1">IFNγ production</text><text x="440.90" y="449.75" font-size="6.68" text-anchor="end" stroke="#1a1a1a" stroke-width="0.1">Response to IFNγ</text><text x="440.90" y="457.05" font-size="6.68" text-anchor="end" stroke="#1a1a1a" stroke-width="0.1">T cell activation</text><text x="440.90" y="464.25" font-size="6.68" text-anchor="end" stroke="#1a1a1a" stroke-width="0.1">Receptor signalling pathway via JAK–STAT</text><text x="440.90" y="471.65" font-size="6.68" text-anchor="end" stroke="#1a1a1a" stroke-width="0.1">Receptor signalling pathway via STAT</text><line x1="446.70" y1="400.80" x2="446.70" y2="472.10" stroke="#8a8a8a" stroke-width="0.8" /><line x1="444.50" y1="403.10" x2="446.70" y2="403.10" stroke="#8a8a8a" stroke-width="0.8" /><line x1="444.50" y1="410.50" x2="446.70" y2="410.50" stroke="#8a8a8a" stroke-width="0.8" /><line x1="444.50" y1="417.90" x2="446.70" y2="417.90" stroke="#8a8a8a" stroke-width="0.8" /><line x1="444.50" y1="425.40" x2="446.70" y2="425.40" stroke="#8a8a8a" stroke-width="0.8" /><line x1="444.50" y1="432.70" x2="446.70" y2="432.70" stroke="#8a8a8a" stroke-width="0.8" /><line x1="444.50" y1="440.00" x2="446.70" y2="440.00" stroke="#8a8a8a" stroke-width="0.8" /><line x1="444.50" y1="447.30" x2="446.70" y2="447.30" stroke="#8a8a8a" stroke-width="0.8" /><line x1="444.50" y1="454.60" x2="446.70" y2="454.60" stroke="#8a8a8a" stroke-width="0.8" /><line x1="444.50" y1="461.80" x2="446.70" y2="461.80" stroke="#8a8a8a" stroke-width="0.8" /><line x1="444.50" y1="469.20" x2="446.70" y2="469.20" stroke="#8a8a8a" stroke-width="0.8" /><line x1="446.70" y1="472.10" x2="520.20" y2="472.10" stroke="#8a8a8a" stroke-width="0.8" /><line x1="466.40" y1="472.10" x2="466.40" y2="474.30" stroke="#8a8a8a" stroke-width="0.8" /><text x="466.40" y="484.80" font-size="8.0" text-anchor="middle" stroke="#1a1a1a" stroke-width="0.1">0.4</text><line x1="489.70" y1="472.10" x2="489.70" y2="474.30" stroke="#8a8a8a" stroke-width="0.8" /><text x="489.70" y="484.80" font-size="8.0" text-anchor="middle" stroke="#1a1a1a" stroke-width="0.1">0.6</text><line x1="512.50" y1="472.10" x2="512.50" y2="474.30" stroke="#8a8a8a" stroke-width="0.8" /><text x="512.50" y="484.80" font-size="8.0" text-anchor="middle" stroke="#1a1a1a" stroke-width="0.1">0.8</text><text x="483.30" y="495.30" font-size="8.0" text-anchor="middle" stroke="#1a1a1a" stroke-width="0.1">GeneRatio</text><circle cx="518.10" cy="403.10" r="2.50" fill="#c044c4" /><circle cx="488.60" cy="410.90" r="1.80" fill="#ff3a10" /><circle cx="485.50" cy="417.90" r="3.30" fill="#ff3a10" /><circle cx="467.80" cy="425.50" r="2.50" fill="#c044c4" /><circle cx="467.50" cy="432.60" r="2.30" fill="#c044c4" /><circle cx="466.40" cy="440.00" r="2.80" fill="#b844c8" /><circle cx="465.70" cy="447.20" r="3.20" fill="#ff3a14" /><circle cx="459.60" cy="454.60" r="4.20" fill="#c044c4" /><circle cx="450.90" cy="461.60" r="2.80" fill="#6a44f0" /><circle cx="449.90" cy="469.60" r="2.80" fill="#1444ff" /><text x="447.20" y="396.60" font-size="8.0" stroke="#1a1a1a" stroke-width="0.1">Count</text><circle cx="478.10" cy="393.80" r="2.40" fill="#000" /><text x="480.80" y="387.80" font-size="8.0" stroke="#1a1a1a" stroke-width="0.1" transform="rotate(-90 480.80 387.80)">30</text><circle cx="486.30" cy="393.80" r="3.00" fill="#000" /><text x="489.00" y="387.80" font-size="8.0" stroke="#1a1a1a" stroke-width="0.1" transform="rotate(-90 489.00 387.80)">60</text><circle cx="496.00" cy="393.80" r="3.50" fill="#000" /><text x="498.70" y="387.80" font-size="8.0" stroke="#1a1a1a" stroke-width="0.1" transform="rotate(-90 498.70 387.80)">90</text><circle cx="506.30" cy="393.80" r="4.00" fill="#000" /><text x="509.00" y="387.80" font-size="8.0" stroke="#1a1a1a" stroke-width="0.1" transform="rotate(-90 509.00 387.80)">120</text><rect x="493.00" y="459.30" width="19.20" height="3.40" fill="url(#pg)" /><line x1="498.70" y1="456.50" x2="498.70" y2="459.30" stroke="#444" stroke-width="0.5" /><text x="501.40" y="454.20" font-size="8.0" stroke="#1a1a1a" stroke-width="0.1" transform="rotate(-90 501.40 454.20)">0.01</text><line x1="510.70" y1="456.50" x2="510.70" y2="459.30" stroke="#444" stroke-width="0.5" /><text x="513.40" y="454.20" font-size="8.0" stroke="#1a1a1a" stroke-width="0.1" transform="rotate(-90 513.40 454.20)">0.03</text><text x="489.50" y="470.00" font-size="8.0" stroke="#1a1a1a" stroke-width="0.1"><tspan font-style="italic">P</tspan> value</text><text x="540.40" y="384.80" font-size="11" font-weight="bold" fill="#000" stroke="#000" stroke-width="0.1">s</text><line x1="594.60" y1="387.90" x2="594.60" y2="454.90" stroke="#8a8a8a" stroke-width="0.8" /><line x1="592.40" y1="387.90" x2="594.60" y2="387.90" stroke="#8a8a8a" stroke-width="0.8" /><text x="588.20" y="390.60" font-size="8.0" text-anchor="end" stroke="#1a1a1a" stroke-width="0.1">8</text><line x1="592.40" y1="404.60" x2="594.60" y2="404.60" stroke="#8a8a8a" stroke-width="0.8" /><text x="588.20" y="407.30" font-size="8.0" text-anchor="end" stroke="#1a1a1a" stroke-width="0.1">6</text><line x1="592.40" y1="421.30" x2="594.60" y2="421.30" stroke="#8a8a8a" stroke-width="0.8" /><line x1="592.40" y1="437.80" x2="594.60" y2="437.80" stroke="#8a8a8a" stroke-width="0.8" /><line x1="543.50" y1="454.90" x2="645.40" y2="454.90" stroke="#8a8a8a" stroke-width="0.8" /><line x1="543.50" y1="454.90" x2="543.50" y2="457.10" stroke="#8a8a8a" stroke-width="0.8" /><text x="543.50" y="466.40" font-size="8.0" text-anchor="middle" stroke="#1a1a1a" stroke-width="0.1">−2</text><line x1="569.10" y1="454.90" x2="569.10" y2="457.10" stroke="#8a8a8a" stroke-width="0.8" /><text x="569.10" y="466.40" font-size="8.0" text-anchor="middle" stroke="#1a1a1a" stroke-width="0.1">−1</text><line x1="594.60" y1="454.90" x2="594.60" y2="457.10" stroke="#8a8a8a" stroke-width="0.8" /><text x="594.60" y="466.40" font-size="8.0" text-anchor="middle" stroke="#1a1a1a" stroke-width="0.1">0</text><line x1="620.20" y1="454.90" x2="620.20" y2="457.10" stroke="#8a8a8a" stroke-width="0.8" /><text x="620.20" y="466.40" font-size="8.0" text-anchor="middle" stroke="#1a1a1a" stroke-width="0.1">1</text><line x1="645.40" y1="454.90" x2="645.40" y2="457.10" stroke="#8a8a8a" stroke-width="0.8" /><text x="645.40" y="466.40" font-size="8.0" text-anchor="middle" stroke="#1a1a1a" stroke-width="0.1">2</text><text x="594.80" y="476.60" font-size="8.0" text-anchor="middle" stroke="#1a1a1a" stroke-width="0.1">log<tspan font-size="5.2" dy="1.8">2</tspan><tspan dy="-1.8">(fold change)</tspan></text><text x="546.38" y="421.30" font-size="8.0" text-anchor="middle" stroke="#1a1a1a" stroke-width="0.1" transform="rotate(-90 546.38 421.30)">−log<tspan font-size="5.2" dy="1.8">10</tspan><tspan dy="-1.8">(</tspan><tspan font-style="italic">P</tspan> value)</text><line x1="547.20" y1="481.30" x2="590.80" y2="481.30" stroke="#222" stroke-width="0.7" /><path d="M547.70,480.00 L544.70,481.30 L547.70,482.60 Z" fill="#222" /><line x1="598.80" y1="481.30" x2="642.30" y2="481.30" stroke="#222" stroke-width="0.7" /><path d="M641.80,480.00 L644.80,481.30 L641.80,482.60 Z" fill="#222" /><text x="541.00" y="492.40" font-size="8.0" stroke="#1a1a1a" stroke-width="0.1">Up-regulated</text><text x="546.00" y="500.90" font-size="8.0" stroke="#1a1a1a" stroke-width="0.1">in <tspan font-style="italic">Stat3</tspan><tspan font-size="6.08" dy="-3.84">+/+</tspan></text><text x="598.80" y="492.40" font-size="8.0" stroke="#1a1a1a" stroke-width="0.1">Up-regulated</text><text x="603.50" y="500.90" font-size="8.0" stroke="#1a1a1a" stroke-width="0.1">in <tspan font-style="italic">Stat3</tspan><tspan font-size="6.08" dy="-3.84">−/−</tspan></text><circle cx="587.96" cy="434.18" r="1.55" fill="#000" /><circle cx="588.13" cy="435.04" r="1.55" fill="#000" /><circle cx="600.80" cy="440.00" r="1.55" fill="#000" /><circle cx="595.74" cy="453.65" r="1.55" fill="#000" /><circle cx="590.44" cy="445.67" r="1.55" fill="#000" /><circle cx="596.23" cy="449.90" r="1.55" fill="#000" /><circle cx="599.06" cy="449.52" r="1.55" fill="#000" /><circle cx="595.50" cy="453.89" r="1.55" fill="#000" /><circle cx="599.21" cy="448.71" r="1.55" fill="#000" /><circle cx="591.81" cy="446.67" r="1.55" fill="#000" /><circle cx="591.09" cy="446.21" r="1.55" fill="#000" /><circle cx="591.47" cy="450.07" r="1.55" fill="#000" /><circle cx="599.09" cy="450.53" r="1.55" fill="#000" /><circle cx="607.14" cy="423.87" r="1.55" fill="#000" /><circle cx="592.05" cy="449.83" r="1.55" fill="#000" /><circle cx="598.73" cy="446.67" r="1.55" fill="#000" /><circle cx="594.06" cy="454.00" r="1.55" fill="#000" /><circle cx="592.75" cy="449.56" r="1.55" fill="#000" /><circle cx="604.45" cy="432.92" r="1.55" fill="#000" /><circle cx="600.48" cy="436.36" r="1.55" fill="#000" /><circle cx="595.41" cy="452.38" r="1.55" fill="#000" /><circle cx="581.63" cy="433.07" r="1.55" fill="#000" /><circle cx="592.00" cy="448.02" r="1.55" fill="#000" /><circle cx="598.92" cy="441.67" r="1.55" fill="#000" /><circle cx="597.39" cy="446.33" r="1.55" fill="#000" /><circle cx="589.92" cy="449.05" r="1.55" fill="#000" /><circle cx="603.43" cy="426.18" r="1.55" fill="#000" /><circle cx="599.57" cy="447.96" r="1.55" fill="#000" /><circle cx="585.85" cy="438.73" r="1.55" fill="#000" /><circle cx="596.77" cy="450.51" r="1.55" fill="#000" /><circle cx="593.87" cy="454.00" r="1.55" fill="#000" /><circle cx="593.02" cy="450.56" r="1.55" fill="#000" /><circle cx="589.53" cy="440.29" r="1.55" fill="#000" /><circle cx="595.88" cy="452.44" r="1.55" fill="#000" /><circle cx="605.61" cy="433.70" r="1.55" fill="#000" /><circle cx="594.55" cy="454.00" r="1.55" fill="#000" /><circle cx="589.97" cy="449.46" r="1.55" fill="#000" /><circle cx="595.21" cy="452.92" r="1.55" fill="#000" /><circle cx="602.26" cy="442.31" r="1.55" fill="#000" /><circle cx="592.23" cy="447.93" r="1.55" fill="#000" /><circle cx="604.33" cy="428.25" r="1.55" fill="#000" /><circle cx="595.95" cy="451.29" r="1.55" fill="#000" /><circle cx="586.03" cy="433.15" r="1.55" fill="#000" /><circle cx="593.35" cy="451.77" r="1.55" fill="#000" /><circle cx="600.97" cy="434.96" r="1.55" fill="#000" /><circle cx="584.24" cy="432.59" r="1.55" fill="#000" /><circle cx="594.56" cy="454.00" r="1.55" fill="#000" /><circle cx="603.01" cy="431.65" r="1.55" fill="#000" /><circle cx="589.93" cy="441.63" r="1.55" fill="#000" /><circle cx="601.21" cy="435.88" r="1.55" fill="#000" /><circle cx="600.48" cy="436.34" r="1.55" fill="#000" /><circle cx="588.33" cy="441.66" r="1.55" fill="#000" /><circle cx="599.99" cy="444.21" r="1.55" fill="#000" /><circle cx="603.87" cy="431.03" r="1.55" fill="#000" /><circle cx="594.17" cy="453.95" r="1.55" fill="#000" /><circle cx="591.17" cy="448.57" r="1.55" fill="#000" /><circle cx="587.67" cy="437.04" r="1.55" fill="#000" /><circle cx="600.22" cy="441.38" r="1.55" fill="#000" /><circle cx="589.22" cy="449.96" r="1.55" fill="#000" /><circle cx="587.28" cy="444.88" r="1.55" fill="#000" /><circle cx="597.44" cy="451.32" r="1.55" fill="#000" /><circle cx="605.21" cy="436.37" r="1.55" fill="#000" /><circle cx="596.00" cy="451.74" r="1.55" fill="#000" /><circle cx="604.43" cy="426.88" r="1.55" fill="#000" /><circle cx="593.53" cy="453.78" r="1.55" fill="#000" /><circle cx="595.69" cy="453.11" r="1.55" fill="#000" /><circle cx="582.20" cy="432.07" r="1.55" fill="#000" /><circle cx="587.69" cy="438.41" r="1.55" fill="#000" /><circle cx="592.47" cy="450.23" r="1.55" fill="#000" /><circle cx="596.88" cy="447.64" r="1.55" fill="#000" /><circle cx="590.53" cy="451.58" r="1.55" fill="#000" /><circle cx="582.29" cy="440.62" r="1.55" fill="#000" /><circle cx="591.47" cy="445.53" r="1.55" fill="#000" /><circle cx="601.87" cy="443.78" r="1.55" fill="#000" /><circle cx="600.02" cy="438.36" r="1.55" fill="#000" /><circle cx="593.65" cy="453.52" r="1.55" fill="#000" /><circle cx="601.15" cy="444.45" r="1.55" fill="#000" /><circle cx="593.81" cy="453.31" r="1.55" fill="#000" /><circle cx="605.39" cy="429.70" r="1.55" fill="#000" /><circle cx="590.20" cy="442.42" r="1.55" fill="#000" /><circle cx="586.98" cy="431.26" r="1.55" fill="#000" /><circle cx="593.68" cy="453.60" r="1.55" fill="#000" /><circle cx="594.24" cy="454.00" r="1.55" fill="#000" /><circle cx="597.85" cy="448.48" r="1.55" fill="#000" /><circle cx="589.90" cy="449.71" r="1.55" fill="#000" /><circle cx="588.55" cy="445.51" r="1.55" fill="#000" /><circle cx="589.61" cy="444.37" r="1.55" fill="#000" /><circle cx="593.53" cy="453.09" r="1.55" fill="#000" /><circle cx="581.60" cy="436.27" r="1.55" fill="#000" /><circle cx="582.53" cy="428.95" r="1.55" fill="#000" /><circle cx="596.42" cy="450.85" r="1.55" fill="#000" /><circle cx="588.74" cy="441.07" r="1.55" fill="#000" /><circle cx="582.27" cy="433.03" r="1.55" fill="#000" /><circle cx="596.01" cy="453.07" r="1.55" fill="#000" /><circle cx="592.55" cy="449.33" r="1.55" fill="#000" /><circle cx="588.96" cy="448.33" r="1.55" fill="#000" /><circle cx="587.56" cy="443.46" r="1.55" fill="#000" /><circle cx="579.34" cy="439.91" r="1.55" fill="#000" /><circle cx="601.90" cy="437.10" r="1.55" fill="#000" /><circle cx="589.98" cy="439.84" r="1.55" fill="#000" /><circle cx="579.21" cy="440.51" r="1.55" fill="#000" /><circle cx="596.77" cy="448.09" r="1.55" fill="#000" /><circle cx="591.28" cy="451.10" r="1.55" fill="#000" /><circle cx="591.74" cy="452.26" r="1.55" fill="#000" /><circle cx="591.87" cy="452.29" r="1.55" fill="#000" /><circle cx="596.10" cy="450.96" r="1.55" fill="#000" /><circle cx="596.79" cy="451.44" r="1.55" fill="#000" /><circle cx="592.51" cy="450.69" r="1.55" fill="#000" /><circle cx="591.05" cy="445.96" r="1.55" fill="#000" /><circle cx="599.23" cy="440.81" r="1.55" fill="#000" /><circle cx="601.07" cy="439.80" r="1.55" fill="#000" /><circle cx="594.01" cy="453.33" r="1.55" fill="#000" /><circle cx="601.71" cy="446.78" r="1.55" fill="#000" /><circle cx="595.13" cy="454.00" r="1.55" fill="#000" /><circle cx="600.00" cy="441.85" r="1.55" fill="#000" /><circle cx="601.97" cy="446.64" r="1.55" fill="#000" /><circle cx="591.15" cy="448.02" r="1.55" fill="#000" /><circle cx="592.28" cy="448.50" r="1.55" fill="#000" /><circle cx="597.48" cy="451.49" r="1.55" fill="#000" /><circle cx="590.23" cy="450.10" r="1.55" fill="#000" /><circle cx="602.81" cy="445.40" r="1.55" fill="#000" /><circle cx="593.18" cy="452.51" r="1.55" fill="#000" /><circle cx="595.08" cy="454.00" r="1.55" fill="#000" /><circle cx="599.65" cy="449.10" r="1.55" fill="#000" /><circle cx="598.57" cy="447.45" r="1.55" fill="#000" /><circle cx="587.50" cy="440.11" r="1.55" fill="#000" /><circle cx="588.46" cy="443.95" r="1.55" fill="#000" /><circle cx="601.00" cy="449.06" r="1.55" fill="#000" /><circle cx="595.38" cy="453.34" r="1.55" fill="#000" /><circle cx="594.61" cy="454.00" r="1.55" fill="#000" /><circle cx="594.43" cy="454.00" r="1.55" fill="#000" /><circle cx="595.56" cy="453.75" r="1.55" fill="#000" /><circle cx="590.68" cy="450.24" r="1.55" fill="#000" /><circle cx="598.54" cy="449.01" r="1.55" fill="#000" /><circle cx="601.40" cy="441.34" r="1.55" fill="#000" /><circle cx="597.16" cy="448.58" r="1.55" fill="#000" /><circle cx="598.74" cy="444.74" r="1.55" fill="#000" /><circle cx="592.45" cy="452.28" r="1.55" fill="#000" /><circle cx="601.56" cy="447.90" r="1.55" fill="#000" /><circle cx="595.24" cy="452.87" r="1.55" fill="#000" /><circle cx="591.40" cy="450.07" r="1.55" fill="#000" /><circle cx="598.27" cy="445.47" r="1.55" fill="#000" /><circle cx="596.76" cy="448.16" r="1.55" fill="#000" /><circle cx="598.17" cy="448.22" r="1.55" fill="#000" /><circle cx="594.43" cy="454.00" r="1.55" fill="#000" /><circle cx="593.16" cy="450.23" r="1.55" fill="#000" /><circle cx="595.51" cy="453.37" r="1.55" fill="#000" /><circle cx="596.40" cy="451.27" r="1.55" fill="#000" /><circle cx="595.80" cy="453.76" r="1.55" fill="#000" /><circle cx="594.67" cy="454.00" r="1.55" fill="#000" /><circle cx="596.41" cy="451.62" r="1.55" fill="#000" /><circle cx="597.57" cy="445.43" r="1.55" fill="#000" /><circle cx="597.48" cy="448.80" r="1.55" fill="#000" /><circle cx="592.78" cy="451.01" r="1.55" fill="#000" /><circle cx="597.08" cy="449.25" r="1.55" fill="#000" /><circle cx="589.31" cy="443.60" r="1.55" fill="#000" /><circle cx="587.29" cy="437.77" r="1.55" fill="#000" /><circle cx="595.22" cy="453.01" r="1.55" fill="#000" /><circle cx="592.42" cy="451.93" r="1.55" fill="#000" /><circle cx="593.02" cy="450.64" r="1.55" fill="#000" /><circle cx="596.83" cy="451.37" r="1.55" fill="#000" /><circle cx="597.53" cy="451.91" r="1.55" fill="#000" /><circle cx="600.13" cy="449.56" r="1.55" fill="#000" /><circle cx="591.69" cy="450.50" r="1.55" fill="#000" /><circle cx="592.80" cy="452.05" r="1.55" fill="#000" /><circle cx="596.43" cy="450.92" r="1.55" fill="#000" /><circle cx="601.12" cy="440.42" r="1.55" fill="#000" /><circle cx="589.61" cy="440.87" r="1.55" fill="#000" /><circle cx="586.76" cy="435.05" r="1.55" fill="#000" /><circle cx="582.99" cy="422.36" r="1.55" fill="#000" /><circle cx="598.06" cy="450.64" r="1.55" fill="#000" /><circle cx="593.93" cy="454.00" r="1.55" fill="#000" /><circle cx="603.03" cy="436.54" r="1.55" fill="#000" /><circle cx="595.14" cy="453.99" r="1.55" fill="#000" /><circle cx="603.35" cy="442.82" r="1.55" fill="#000" /><circle cx="583.99" cy="436.85" r="1.55" fill="#000" /><circle cx="594.17" cy="453.68" r="1.55" fill="#000" /><circle cx="595.38" cy="454.00" r="1.55" fill="#000" /><circle cx="591.21" cy="448.44" r="1.55" fill="#000" /><circle cx="593.95" cy="453.10" r="1.55" fill="#000" /><circle cx="598.22" cy="447.86" r="1.55" fill="#000" /><circle cx="597.93" cy="448.60" r="1.55" fill="#000" /><circle cx="596.05" cy="450.28" r="1.55" fill="#000" /><circle cx="581.46" cy="440.86" r="1.55" fill="#000" /><circle cx="585.27" cy="424.97" r="1.55" fill="#000" /><circle cx="601.83" cy="433.41" r="1.55" fill="#000" /><circle cx="596.12" cy="452.87" r="1.55" fill="#000" /><circle cx="593.96" cy="453.82" r="1.55" fill="#000" /><circle cx="598.32" cy="449.67" r="1.55" fill="#000" /><circle cx="592.06" cy="447.61" r="1.55" fill="#000" /><circle cx="598.01" cy="446.95" r="1.55" fill="#000" /><circle cx="592.06" cy="449.78" r="1.55" fill="#000" /><circle cx="596.75" cy="449.38" r="1.55" fill="#000" /><circle cx="596.85" cy="451.97" r="1.55" fill="#000" /><circle cx="596.05" cy="450.65" r="1.55" fill="#000" /><circle cx="589.83" cy="441.68" r="1.55" fill="#000" /><circle cx="594.03" cy="453.61" r="1.55" fill="#000" /><circle cx="588.08" cy="449.15" r="1.55" fill="#000" /><circle cx="597.76" cy="449.37" r="1.55" fill="#000" /><circle cx="585.92" cy="426.96" r="1.55" fill="#000" /><circle cx="595.91" cy="450.86" r="1.55" fill="#000" /><circle cx="591.65" cy="446.73" r="1.55" fill="#000" /><circle cx="586.75" cy="437.09" r="1.55" fill="#000" /><circle cx="591.66" cy="451.95" r="1.55" fill="#000" /><circle cx="586.69" cy="433.74" r="1.55" fill="#000" /><circle cx="600.44" cy="445.75" r="1.55" fill="#000" /><circle cx="598.67" cy="450.86" r="1.55" fill="#000" /><circle cx="592.66" cy="450.13" r="1.55" fill="#000" /><circle cx="606.17" cy="421.73" r="1.55" fill="#000" /><circle cx="591.39" cy="447.48" r="1.55" fill="#000" /><circle cx="596.34" cy="452.46" r="1.55" fill="#000" /><circle cx="601.16" cy="440.81" r="1.55" fill="#000" /><circle cx="594.26" cy="454.00" r="1.55" fill="#000" /><circle cx="594.87" cy="454.00" r="1.55" fill="#000" /><circle cx="601.16" cy="447.80" r="1.55" fill="#000" /><circle cx="590.45" cy="445.89" r="1.55" fill="#000" /><circle cx="593.42" cy="453.32" r="1.55" fill="#000" /><circle cx="589.28" cy="447.08" r="1.55" fill="#000" /><circle cx="580.19" cy="420.84" r="1.55" fill="#000" /><circle cx="587.70" cy="439.72" r="1.55" fill="#000" /><circle cx="600.19" cy="444.64" r="1.55" fill="#000" /><circle cx="584.47" cy="433.55" r="1.55" fill="#000" /><circle cx="598.55" cy="445.83" r="1.55" fill="#000" /><circle cx="591.91" cy="451.47" r="1.55" fill="#000" /><circle cx="597.34" cy="448.62" r="1.55" fill="#000" /><circle cx="599.39" cy="443.42" r="1.55" fill="#000" /><circle cx="601.64" cy="436.60" r="1.55" fill="#000" /><circle cx="600.61" cy="435.93" r="1.55" fill="#000" /><circle cx="597.04" cy="447.83" r="1.55" fill="#000" /><circle cx="585.28" cy="442.89" r="1.55" fill="#000" /><circle cx="598.18" cy="446.60" r="1.55" fill="#000" /><circle cx="602.10" cy="433.80" r="1.55" fill="#000" /><circle cx="600.41" cy="440.03" r="1.55" fill="#000" /><circle cx="597.43" cy="451.16" r="1.55" fill="#000" /><circle cx="595.84" cy="452.50" r="1.55" fill="#000" /><circle cx="580.07" cy="428.72" r="1.55" fill="#000" /><circle cx="592.06" cy="449.11" r="1.55" fill="#000" /><circle cx="588.58" cy="435.81" r="1.55" fill="#000" /><circle cx="600.66" cy="448.88" r="1.55" fill="#000" /><circle cx="595.15" cy="454.00" r="1.55" fill="#000" /><circle cx="585.61" cy="439.79" r="1.55" fill="#000" /><circle cx="593.60" cy="453.37" r="1.55" fill="#000" /><circle cx="582.03" cy="423.23" r="1.55" fill="#000" /><circle cx="596.39" cy="451.97" r="1.55" fill="#000" /><circle cx="587.45" cy="439.98" r="1.55" fill="#000" /><circle cx="597.77" cy="447.16" r="1.55" fill="#000" /><circle cx="598.04" cy="448.07" r="1.55" fill="#000" /><circle cx="601.60" cy="433.20" r="1.55" fill="#000" /><circle cx="583.65" cy="445.84" r="1.55" fill="#000" /><circle cx="602.69" cy="441.16" r="1.55" fill="#000" /><circle cx="598.86" cy="447.44" r="1.55" fill="#000" /><circle cx="595.04" cy="454.00" r="1.55" fill="#000" /><circle cx="597.59" cy="449.01" r="1.55" fill="#000" /><circle cx="590.19" cy="443.89" r="1.55" fill="#000" /><circle cx="608.38" cy="441.88" r="1.55" fill="#000" /><circle cx="586.96" cy="437.58" r="1.55" fill="#000" /><circle cx="600.70" cy="440.29" r="1.55" fill="#000" /><circle cx="592.61" cy="449.54" r="1.55" fill="#000" /><circle cx="584.79" cy="424.94" r="1.55" fill="#000" /><circle cx="600.55" cy="435.52" r="1.55" fill="#000" /><circle cx="581.30" cy="437.00" r="1.55" fill="#000" /><circle cx="601.68" cy="444.43" r="1.55" fill="#000" /><circle cx="590.06" cy="449.82" r="1.55" fill="#000" /><circle cx="590.92" cy="448.47" r="1.55" fill="#000" /><circle cx="595.18" cy="453.17" r="1.55" fill="#000" /><circle cx="594.96" cy="453.76" r="1.55" fill="#000" /><circle cx="595.63" cy="453.72" r="1.55" fill="#000" /><circle cx="595.67" cy="453.95" r="1.55" fill="#000" /><circle cx="587.69" cy="436.51" r="1.55" fill="#000" /><circle cx="596.51" cy="449.71" r="1.55" fill="#000" /><circle cx="598.53" cy="444.94" r="1.55" fill="#000" /><circle cx="605.31" cy="436.34" r="1.55" fill="#000" /><circle cx="599.79" cy="444.59" r="1.55" fill="#000" /><circle cx="582.18" cy="427.50" r="1.55" fill="#000" /><circle cx="594.02" cy="454.00" r="1.55" fill="#000" /><circle cx="601.65" cy="436.99" r="1.55" fill="#000" /><circle cx="604.26" cy="435.11" r="1.55" fill="#000" /><circle cx="595.09" cy="453.54" r="1.55" fill="#000" /><circle cx="598.55" cy="447.95" r="1.55" fill="#000" /><circle cx="593.94" cy="453.63" r="1.55" fill="#000" /><circle cx="595.57" cy="451.93" r="1.55" fill="#000" /><circle cx="589.85" cy="440.13" r="1.55" fill="#000" /><circle cx="599.63" cy="438.63" r="1.55" fill="#000" /><circle cx="593.51" cy="453.81" r="1.55" fill="#000" /><circle cx="597.82" cy="446.47" r="1.55" fill="#000" /><circle cx="589.10" cy="446.39" r="1.55" fill="#000" /><circle cx="593.60" cy="452.04" r="1.55" fill="#000" /><circle cx="597.99" cy="447.45" r="1.55" fill="#000" /><circle cx="591.33" cy="451.53" r="1.55" fill="#000" /><circle cx="595.16" cy="454.00" r="1.55" fill="#000" /><circle cx="597.66" cy="453.68" r="1.55" fill="#000" /><circle cx="593.47" cy="450.55" r="1.55" fill="#000" /><circle cx="594.43" cy="452.44" r="1.55" fill="#000" /><circle cx="597.28" cy="451.54" r="1.55" fill="#000" /><circle cx="590.29" cy="452.19" r="1.55" fill="#000" /><circle cx="594.68" cy="452.44" r="1.55" fill="#000" /><circle cx="597.67" cy="452.49" r="1.55" fill="#000" /><circle cx="596.59" cy="453.25" r="1.55" fill="#000" /><circle cx="595.45" cy="453.50" r="1.55" fill="#000" /><circle cx="594.27" cy="451.44" r="1.55" fill="#000" /><circle cx="595.79" cy="453.96" r="1.55" fill="#000" /><circle cx="596.70" cy="451.91" r="1.55" fill="#000" /><circle cx="595.39" cy="453.59" r="1.55" fill="#000" /><circle cx="592.90" cy="453.47" r="1.55" fill="#000" /><circle cx="593.61" cy="451.30" r="1.55" fill="#000" /><circle cx="592.44" cy="453.08" r="1.55" fill="#000" /><circle cx="596.44" cy="453.69" r="1.55" fill="#000" /><circle cx="600.19" cy="452.81" r="1.55" fill="#000" /><circle cx="595.84" cy="453.59" r="1.55" fill="#000" /><circle cx="588.99" cy="453.29" r="1.55" fill="#000" /><circle cx="599.58" cy="452.00" r="1.55" fill="#000" /><circle cx="599.81" cy="452.79" r="1.55" fill="#000" /><circle cx="595.73" cy="453.16" r="1.55" fill="#000" /><circle cx="594.69" cy="452.45" r="1.55" fill="#000" /><circle cx="594.53" cy="453.90" r="1.55" fill="#000" /><circle cx="594.85" cy="451.59" r="1.55" fill="#000" /><circle cx="598.25" cy="452.71" r="1.55" fill="#000" /><circle cx="596.16" cy="452.84" r="1.55" fill="#000" /><circle cx="593.79" cy="449.17" r="1.55" fill="#000" /><circle cx="595.08" cy="453.17" r="1.55" fill="#000" /><circle cx="593.62" cy="453.35" r="1.55" fill="#000" /><circle cx="589.63" cy="452.74" r="1.55" fill="#000" /><circle cx="593.15" cy="452.99" r="1.55" fill="#000" /><circle cx="597.59" cy="452.22" r="1.55" fill="#000" /><circle cx="592.93" cy="451.99" r="1.55" fill="#000" /><circle cx="586.70" cy="452.04" r="1.55" fill="#000" /><circle cx="596.53" cy="452.75" r="1.55" fill="#000" /><circle cx="589.65" cy="453.90" r="1.55" fill="#000" /><circle cx="598.72" cy="452.51" r="1.55" fill="#000" /><circle cx="592.42" cy="452.22" r="1.55" fill="#000" /><circle cx="596.23" cy="450.29" r="1.55" fill="#000" /><circle cx="594.08" cy="453.08" r="1.55" fill="#000" /><circle cx="594.38" cy="452.12" r="1.55" fill="#000" /><circle cx="597.01" cy="453.00" r="1.55" fill="#000" /><circle cx="590.67" cy="451.92" r="1.55" fill="#000" /><circle cx="596.52" cy="453.73" r="1.55" fill="#000" /><circle cx="595.05" cy="452.20" r="1.55" fill="#000" /><circle cx="599.11" cy="452.30" r="1.55" fill="#000" /><circle cx="597.55" cy="451.81" r="1.55" fill="#000" /><circle cx="604.78" cy="452.35" r="1.55" fill="#000" /><circle cx="553.20" cy="395.80" r="1.55" fill="#000" /><circle cx="570.30" cy="396.40" r="1.55" fill="#000" /><circle cx="566.80" cy="413.50" r="1.55" fill="#000" /><circle cx="567.50" cy="412.50" r="1.55" fill="#000" /><circle cx="573.50" cy="415.20" r="1.55" fill="#000" /><circle cx="570.30" cy="421.40" r="1.55" fill="#000" /><circle cx="573.10" cy="434.60" r="1.55" fill="#000" /><circle cx="619.30" cy="440.40" r="1.55" fill="#000" /><circle cx="612.20" cy="444.30" r="1.55" fill="#000" /><circle cx="603.40" cy="417.50" r="1.55" fill="#000" /><circle cx="606.60" cy="417.50" r="1.55" fill="#000" /><circle cx="610.50" cy="420.00" r="1.55" fill="#000" /><circle cx="583.00" cy="426.00" r="1.55" fill="#000" /><circle cx="585.00" cy="428.00" r="1.55" fill="#000" /><circle cx="581.00" cy="431.00" r="1.55" fill="#000" /><circle cx="588.00" cy="431.00" r="1.55" fill="#000" /><circle cx="583.00" cy="436.00" r="1.55" fill="#000" /><circle cx="580.00" cy="441.00" r="1.55" fill="#000" /><circle cx="586.00" cy="440.00" r="1.55" fill="#000" /><circle cx="577.00" cy="446.00" r="1.55" fill="#000" /><circle cx="575.00" cy="445.00" r="1.55" fill="#000" /><circle cx="600.00" cy="430.00" r="1.55" fill="#000" /><circle cx="602.00" cy="434.00" r="1.55" fill="#000" /><circle cx="604.00" cy="438.00" r="1.55" fill="#000" /><circle cx="606.00" cy="442.00" r="1.55" fill="#000" /><circle cx="600.00" cy="438.00" r="1.55" fill="#000" /><circle cx="608.00" cy="445.00" r="1.55" fill="#000" /><circle cx="610.10" cy="392.80" r="1.60" fill="#f23a22" /><circle cx="612.60" cy="416.60" r="1.60" fill="#f23a22" /><circle cx="620.20" cy="417.50" r="1.60" fill="#f23a22" /><circle cx="641.30" cy="417.50" r="1.60" fill="#f23a22" /><circle cx="607.00" cy="421.40" r="1.60" fill="#f23a22" /><circle cx="614.40" cy="424.40" r="1.60" fill="#f23a22" /><circle cx="610.80" cy="427.00" r="1.60" fill="#f23a22" /><circle cx="624.60" cy="426.70" r="1.60" fill="#f23a22" /><text x="616.10" y="395.50" font-size="8.0" font-style="italic" fill="#f23a22" stroke="#f23a22" stroke-width="0.1">Il12rb2</text><text x="597.80" y="410.90" font-size="8.0" font-style="italic" fill="#f23a22" stroke="#f23a22" stroke-width="0.1">Cd80</text><text x="619.60" y="410.90" font-size="8.0" font-style="italic" fill="#f23a22" stroke="#f23a22" stroke-width="0.1">Tnfrsf8</text><text x="586.70" y="425.80" font-size="8.0" font-style="italic" fill="#f23a22" stroke="#f23a22" stroke-width="0.1">Icosl</text><text x="617.50" y="425.00" font-size="8.0" font-style="italic" fill="#f23a22" stroke="#f23a22" stroke-width="0.1">Csf1</text><text x="636.00" y="427.60" font-size="8.0" font-style="italic" fill="#f23a22" stroke="#f23a22" stroke-width="0.1">Cd207</text><text x="602.00" y="436.10" font-size="8.0" font-style="italic" fill="#f23a22" stroke="#f23a22" stroke-width="0.1">Cd44</text><text x="624.60" y="436.10" font-size="8.0" font-style="italic" fill="#f23a22" stroke="#f23a22" stroke-width="0.1">Il12b</text><text x="310.20" y="515.50" font-size="11" font-weight="bold" fill="#000" stroke="#000" stroke-width="0.1">t</text><line x1="336.10" y1="527.80" x2="336.10" y2="602.30" stroke="#8a8a8a" stroke-width="0.8" /><line x1="333.90" y1="527.80" x2="336.10" y2="527.80" stroke="#8a8a8a" stroke-width="0.8" /><text x="330.90" y="530.50" font-size="8.0" text-anchor="end" stroke="#1a1a1a" stroke-width="0.1">40</text><line x1="333.90" y1="546.30" x2="336.10" y2="546.30" stroke="#8a8a8a" stroke-width="0.8" /><text x="330.90" y="549.00" font-size="8.0" text-anchor="end" stroke="#1a1a1a" stroke-width="0.1">30</text><line x1="333.90" y1="564.90" x2="336.10" y2="564.90" stroke="#8a8a8a" stroke-width="0.8" /><text x="330.90" y="567.60" font-size="8.0" text-anchor="end" stroke="#1a1a1a" stroke-width="0.1">20</text><line x1="333.90" y1="583.40" x2="336.10" y2="583.40" stroke="#8a8a8a" stroke-width="0.8" /><text x="330.90" y="586.10" font-size="8.0" text-anchor="end" stroke="#1a1a1a" stroke-width="0.1">10</text><line x1="333.90" y1="602.30" x2="336.10" y2="602.30" stroke="#8a8a8a" stroke-width="0.8" /><text x="330.90" y="605.00" font-size="8.0" text-anchor="end" stroke="#1a1a1a" stroke-width="0.1">0</text><line x1="336.10" y1="602.30" x2="384.90" y2="602.30" stroke="#8a8a8a" stroke-width="0.8" /><rect x="339.60" y="600.00" width="7.00" height="2.30" fill="#d4e2f8" stroke="#3355dd" stroke-width="0.8" /><rect x="346.60" y="590.40" width="7.30" height="11.90" fill="#d4e2f8" stroke="#3355dd" stroke-width="0.8" /><rect x="362.50" y="600.50" width="6.90" height="1.80" fill="#fde1df" stroke="#f04030" stroke-width="0.8" /><rect x="369.40" y="548.70" width="7.40" height="53.60" fill="#fde1df" stroke="#f04030" stroke-width="0.8" /><circle cx="341.30" cy="600.40" r="1.65" fill="#1d3fd6" /><circle cx="343.10" cy="600.40" r="1.65" fill="#1d3fd6" /><circle cx="344.90" cy="600.40" r="1.65" fill="#1d3fd6" /><line x1="343.10" y1="602.30" x2="343.10" y2="604.30" stroke="#8a8a8a" stroke-width="0.8" /><text x="344.50" y="609.00" font-size="8.0" text-anchor="end" stroke="#1a1a1a" stroke-width="0.1" transform="rotate(-45 344.50 609.00)">IgG</text><line x1="350.25" y1="583.50" x2="350.25" y2="597.00" stroke="#3355dd" stroke-width="0.8" /><line x1="348.45" y1="583.50" x2="352.05" y2="583.50" stroke="#3355dd" stroke-width="0.8" /><line x1="348.45" y1="597.00" x2="352.05" y2="597.00" stroke="#3355dd" stroke-width="0.8" /><circle cx="348.65" cy="584.40" r="1.65" fill="#1d3fd6" /><circle cx="353.05" cy="587.00" r="1.65" fill="#1d3fd6" /><circle cx="350.55" cy="598.30" r="1.65" fill="#1d3fd6" /><line x1="350.25" y1="602.30" x2="350.25" y2="604.30" stroke="#8a8a8a" stroke-width="0.8" /><text x="355.30" y="609.00" font-size="8.0" text-anchor="end" stroke="#1a1a1a" stroke-width="0.1" transform="rotate(-45 355.30 609.00)">STAT5</text><circle cx="364.15" cy="600.60" r="1.65" fill="#f2361e" /><circle cx="365.95" cy="600.00" r="1.65" fill="#f2361e" /><circle cx="367.75" cy="600.40" r="1.65" fill="#f2361e" /><line x1="365.95" y1="602.30" x2="365.95" y2="604.30" stroke="#8a8a8a" stroke-width="0.8" /><text x="367.35" y="609.00" font-size="8.0" text-anchor="end" stroke="#1a1a1a" stroke-width="0.1" transform="rotate(-45 367.35 609.00)">IgG</text><line x1="373.10" y1="538.10" x2="373.10" y2="558.60" stroke="#f04030" stroke-width="0.8" /><line x1="371.30" y1="538.10" x2="374.90" y2="538.10" stroke="#f04030" stroke-width="0.8" /><line x1="371.30" y1="558.60" x2="374.90" y2="558.60" stroke="#f04030" stroke-width="0.8" /><circle cx="373.10" cy="529.20" r="1.65" fill="#f2361e" /><circle cx="373.10" cy="553.60" r="1.65" fill="#f2361e" /><circle cx="373.10" cy="562.60" r="1.65" fill="#f2361e" /><line x1="373.10" y1="602.30" x2="373.10" y2="604.30" stroke="#8a8a8a" stroke-width="0.8" /><text x="378.15" y="609.00" font-size="8.0" text-anchor="end" stroke="#1a1a1a" stroke-width="0.1" transform="rotate(-45 378.15 609.00)">STAT5</text><line x1="350.00" y1="524.20" x2="373.80" y2="524.20" stroke="#333" stroke-width="0.9" /><text x="361.90" y="525.70" font-size="9.5" text-anchor="middle" stroke="#1a1a1a" stroke-width="0.1">**</text><rect x="336.80" y="534.90" width="3.60" height="3.60" fill="#d4e2f8" stroke="#3355dd" stroke-width="0.7" /><rect x="336.80" y="542.90" width="3.60" height="3.60" fill="#fde1df" stroke="#f04030" stroke-width="0.7" /><text x="343.10" y="539.50" font-size="8.0" stroke="#1a1a1a" stroke-width="0.1"><tspan font-style="italic">Stat3</tspan><tspan font-size="6.08" dy="-3.84">+/+</tspan></text><text x="343.10" y="547.50" font-size="8.0" stroke="#1a1a1a" stroke-width="0.1"><tspan font-style="italic">Stat3</tspan><tspan font-size="6.08" dy="-3.84">−/−</tspan></text><text x="315.68" y="567.05" font-size="8.0" text-anchor="middle" stroke="#1a1a1a" stroke-width="0.1" transform="rotate(-90 315.68 567.05)">Relative site occupancy</text><text x="397.00" y="515.90" font-size="11" font-weight="bold" fill="#000" stroke="#000" stroke-width="0.1">u</text><line x1="424.70" y1="527.40" x2="424.70" y2="601.30" stroke="#8a8a8a" stroke-width="0.8" /><line x1="422.50" y1="527.40" x2="424.70" y2="527.40" stroke="#8a8a8a" stroke-width="0.8" /><text x="419.60" y="530.10" font-size="8.0" text-anchor="end" stroke="#1a1a1a" stroke-width="0.1">30</text><line x1="422.50" y1="552.20" x2="424.70" y2="552.20" stroke="#8a8a8a" stroke-width="0.8" /><text x="419.60" y="554.90" font-size="8.0" text-anchor="end" stroke="#1a1a1a" stroke-width="0.1">20</text><line x1="422.50" y1="577.00" x2="424.70" y2="577.00" stroke="#8a8a8a" stroke-width="0.8" /><text x="419.60" y="579.70" font-size="8.0" text-anchor="end" stroke="#1a1a1a" stroke-width="0.1">10</text><line x1="422.50" y1="601.30" x2="424.70" y2="601.30" stroke="#8a8a8a" stroke-width="0.8" /><text x="419.60" y="604.00" font-size="8.0" text-anchor="end" stroke="#1a1a1a" stroke-width="0.1">0</text><line x1="424.70" y1="601.30" x2="473.40" y2="601.30" stroke="#8a8a8a" stroke-width="0.8" /><rect x="428.70" y="599.00" width="6.60" height="2.30" fill="#d4e2f8" stroke="#3355dd" stroke-width="0.8" /><rect x="435.30" y="581.80" width="7.30" height="19.50" fill="#d4e2f8" stroke="#3355dd" stroke-width="0.8" /><rect x="450.60" y="599.00" width="6.90" height="2.30" fill="#fde1df" stroke="#f04030" stroke-width="0.8" /><rect x="457.90" y="549.00" width="7.20" height="52.30" fill="#fde1df" stroke="#f04030" stroke-width="0.8" /><circle cx="430.20" cy="599.00" r="1.65" fill="#1d3fd6" /><circle cx="432.00" cy="599.00" r="1.65" fill="#1d3fd6" /><circle cx="433.80" cy="599.00" r="1.65" fill="#1d3fd6" /><line x1="432.00" y1="601.30" x2="432.00" y2="603.30" stroke="#8a8a8a" stroke-width="0.8" /><text x="433.40" y="608.00" font-size="8.0" text-anchor="end" stroke="#1a1a1a" stroke-width="0.1" transform="rotate(-45 433.40 608.00)">IgG</text><line x1="438.95" y1="578.00" x2="438.95" y2="585.50" stroke="#3355dd" stroke-width="0.8" /><line x1="437.15" y1="578.00" x2="440.75" y2="578.00" stroke="#3355dd" stroke-width="0.8" /><line x1="437.15" y1="585.50" x2="440.75" y2="585.50" stroke="#3355dd" stroke-width="0.8" /><circle cx="438.95" cy="575.50" r="1.65" fill="#1d3fd6" /><circle cx="438.95" cy="579.40" r="1.65" fill="#1d3fd6" /><circle cx="438.95" cy="583.40" r="1.65" fill="#1d3fd6" /><line x1="438.95" y1="601.30" x2="438.95" y2="603.30" stroke="#8a8a8a" stroke-width="0.8" /><text x="444.20" y="608.00" font-size="8.0" text-anchor="end" stroke="#1a1a1a" stroke-width="0.1" transform="rotate(-45 444.20 608.00)">STAT5</text><circle cx="452.55" cy="599.00" r="1.65" fill="#f2361e" /><circle cx="454.05" cy="597.80" r="1.65" fill="#f2361e" /><circle cx="455.55" cy="599.20" r="1.65" fill="#f2361e" /><line x1="454.05" y1="601.30" x2="454.05" y2="603.30" stroke="#8a8a8a" stroke-width="0.8" /><text x="455.45" y="608.00" font-size="8.0" text-anchor="end" stroke="#1a1a1a" stroke-width="0.1" transform="rotate(-45 455.45 608.00)">IgG</text><line x1="461.50" y1="543.50" x2="461.50" y2="557.00" stroke="#f04030" stroke-width="0.8" /><line x1="459.70" y1="543.50" x2="463.30" y2="543.50" stroke="#f04030" stroke-width="0.8" /><line x1="459.70" y1="557.00" x2="463.30" y2="557.00" stroke="#f04030" stroke-width="0.8" /><circle cx="461.50" cy="536.70" r="1.65" fill="#f2361e" /><circle cx="461.50" cy="550.60" r="1.65" fill="#f2361e" /><circle cx="461.50" cy="556.60" r="1.65" fill="#f2361e" /><line x1="461.50" y1="601.30" x2="461.50" y2="603.30" stroke="#8a8a8a" stroke-width="0.8" /><text x="466.25" y="608.00" font-size="8.0" text-anchor="end" stroke="#1a1a1a" stroke-width="0.1" transform="rotate(-45 466.25 608.00)">STAT5</text><line x1="437.30" y1="524.20" x2="461.10" y2="524.20" stroke="#333" stroke-width="0.9" /><text x="449.20" y="525.70" font-size="9.5" text-anchor="middle" stroke="#1a1a1a" stroke-width="0.1">***</text><rect x="425.50" y="534.90" width="3.60" height="3.60" fill="#d4e2f8" stroke="#3355dd" stroke-width="0.7" /><rect x="425.50" y="542.90" width="3.60" height="3.60" fill="#fde1df" stroke="#f04030" stroke-width="0.7" /><text x="431.80" y="539.50" font-size="8.0" stroke="#1a1a1a" stroke-width="0.1"><tspan font-style="italic">Stat3</tspan><tspan font-size="6.08" dy="-3.84">+/+</tspan></text><text x="431.80" y="547.50" font-size="8.0" stroke="#1a1a1a" stroke-width="0.1"><tspan font-style="italic">Stat3</tspan><tspan font-size="6.08" dy="-3.84">−/−</tspan></text><text x="403.18" y="566.35" font-size="8.0" text-anchor="middle" stroke="#1a1a1a" stroke-width="0.1" transform="rotate(-90 403.18 566.35)">Relative site occupancy</text><text x="482.00" y="515.90" font-size="11" font-weight="bold" fill="#000" stroke="#000" stroke-width="0.1">v</text><line x1="507.80" y1="527.80" x2="507.80" y2="602.30" stroke="#8a8a8a" stroke-width="0.8" /><line x1="505.60" y1="527.80" x2="507.80" y2="527.80" stroke="#8a8a8a" stroke-width="0.8" /><text x="503.00" y="530.50" font-size="8.0" text-anchor="end" stroke="#1a1a1a" stroke-width="0.1">10</text><line x1="505.60" y1="542.70" x2="507.80" y2="542.70" stroke="#8a8a8a" stroke-width="0.8" /><text x="503.00" y="545.40" font-size="8.0" text-anchor="end" stroke="#1a1a1a" stroke-width="0.1">8</text><line x1="505.60" y1="557.60" x2="507.80" y2="557.60" stroke="#8a8a8a" stroke-width="0.8" /><text x="503.00" y="560.30" font-size="8.0" text-anchor="end" stroke="#1a1a1a" stroke-width="0.1">6</text><line x1="505.60" y1="572.50" x2="507.80" y2="572.50" stroke="#8a8a8a" stroke-width="0.8" /><text x="503.00" y="575.20" font-size="8.0" text-anchor="end" stroke="#1a1a1a" stroke-width="0.1">4</text><line x1="505.60" y1="587.40" x2="507.80" y2="587.40" stroke="#8a8a8a" stroke-width="0.8" /><text x="503.00" y="590.10" font-size="8.0" text-anchor="end" stroke="#1a1a1a" stroke-width="0.1">2</text><line x1="505.60" y1="602.30" x2="507.80" y2="602.30" stroke="#8a8a8a" stroke-width="0.8" /><text x="503.00" y="605.00" font-size="8.0" text-anchor="end" stroke="#1a1a1a" stroke-width="0.1">0</text><line x1="507.80" y1="602.30" x2="558.00" y2="602.30" stroke="#8a8a8a" stroke-width="0.8" /><rect x="512.30" y="594.60" width="8.00" height="7.70" fill="#d4e2f8" stroke="#3355dd" stroke-width="0.8" /><rect x="520.30" y="582.40" width="7.30" height="19.90" fill="#d4e2f8" stroke="#3355dd" stroke-width="0.8" /><rect x="535.00" y="594.60" width="7.50" height="7.70" fill="#fde1df" stroke="#f04030" stroke-width="0.8" /><rect x="542.50" y="563.50" width="7.00" height="38.80" fill="#fde1df" stroke="#f04030" stroke-width="0.8" /><circle cx="513.70" cy="594.30" r="1.65" fill="#1d3fd6" /><circle cx="516.30" cy="594.30" r="1.65" fill="#1d3fd6" /><circle cx="518.90" cy="594.30" r="1.65" fill="#1d3fd6" /><line x1="516.30" y1="602.30" x2="516.30" y2="604.30" stroke="#8a8a8a" stroke-width="0.8" /><text x="517.70" y="609.00" font-size="8.0" text-anchor="end" stroke="#1a1a1a" stroke-width="0.1" transform="rotate(-45 517.70 609.00)">IgG</text><line x1="523.95" y1="578.50" x2="523.95" y2="586.00" stroke="#3355dd" stroke-width="0.8" /><line x1="522.15" y1="578.50" x2="525.75" y2="578.50" stroke="#3355dd" stroke-width="0.8" /><line x1="522.15" y1="586.00" x2="525.75" y2="586.00" stroke="#3355dd" stroke-width="0.8" /><circle cx="521.25" cy="577.40" r="1.65" fill="#1d3fd6" /><circle cx="526.15" cy="578.40" r="1.65" fill="#1d3fd6" /><circle cx="523.65" cy="589.40" r="1.65" fill="#1d3fd6" /><line x1="523.95" y1="602.30" x2="523.95" y2="604.30" stroke="#8a8a8a" stroke-width="0.8" /><text x="528.50" y="609.00" font-size="8.0" text-anchor="end" stroke="#1a1a1a" stroke-width="0.1" transform="rotate(-45 528.50 609.00)">STAT5</text><circle cx="536.55" cy="591.30" r="1.65" fill="#f2361e" /><circle cx="538.95" cy="596.30" r="1.65" fill="#f2361e" /><circle cx="541.45" cy="592.30" r="1.65" fill="#f2361e" /><line x1="538.75" y1="602.30" x2="538.75" y2="604.30" stroke="#8a8a8a" stroke-width="0.8" /><text x="540.15" y="609.00" font-size="8.0" text-anchor="end" stroke="#1a1a1a" stroke-width="0.1" transform="rotate(-45 540.15 609.00)">IgG</text><line x1="546.00" y1="553.60" x2="546.00" y2="571.50" stroke="#f04030" stroke-width="0.8" /><line x1="544.20" y1="553.60" x2="547.80" y2="553.60" stroke="#f04030" stroke-width="0.8" /><line x1="544.20" y1="571.50" x2="547.80" y2="571.50" stroke="#f04030" stroke-width="0.8" /><circle cx="546.00" cy="554.60" r="1.65" fill="#f2361e" /><circle cx="546.00" cy="557.60" r="1.65" fill="#f2361e" /><circle cx="546.00" cy="576.50" r="1.65" fill="#f2361e" /><line x1="546.00" y1="602.30" x2="546.00" y2="604.30" stroke="#8a8a8a" stroke-width="0.8" /><text x="550.95" y="609.00" font-size="8.0" text-anchor="end" stroke="#1a1a1a" stroke-width="0.1" transform="rotate(-45 550.95 609.00)">STAT5</text><line x1="522.30" y1="524.20" x2="545.50" y2="524.20" stroke="#333" stroke-width="0.9" /><text x="533.90" y="525.70" font-size="9.5" text-anchor="middle" stroke="#1a1a1a" stroke-width="0.1">*</text><rect x="510.50" y="534.90" width="3.60" height="3.60" fill="#d4e2f8" stroke="#3355dd" stroke-width="0.7" /><rect x="510.50" y="542.90" width="3.60" height="3.60" fill="#fde1df" stroke="#f04030" stroke-width="0.7" /><text x="516.80" y="539.50" font-size="8.0" stroke="#1a1a1a" stroke-width="0.1"><tspan font-style="italic">Stat3</tspan><tspan font-size="6.08" dy="-3.84">+/+</tspan></text><text x="516.80" y="547.50" font-size="8.0" stroke="#1a1a1a" stroke-width="0.1"><tspan font-style="italic">Stat3</tspan><tspan font-size="6.08" dy="-3.84">−/−</tspan></text><text x="487.38" y="567.05" font-size="8.0" text-anchor="middle" stroke="#1a1a1a" stroke-width="0.1" transform="rotate(-90 487.38 567.05)">Relative site occupancy</text><text x="569.40" y="515.90" font-size="11" font-weight="bold" fill="#000" stroke="#000" stroke-width="0.1">w</text><line x1="594.80" y1="527.80" x2="594.80" y2="602.30" stroke="#8a8a8a" stroke-width="0.8" /><line x1="592.60" y1="527.80" x2="594.80" y2="527.80" stroke="#8a8a8a" stroke-width="0.8" /><text x="589.40" y="530.50" font-size="8.0" text-anchor="end" stroke="#1a1a1a" stroke-width="0.1">30</text><line x1="592.60" y1="552.70" x2="594.80" y2="552.70" stroke="#8a8a8a" stroke-width="0.8" /><text x="589.40" y="555.40" font-size="8.0" text-anchor="end" stroke="#1a1a1a" stroke-width="0.1">20</text><line x1="592.60" y1="577.50" x2="594.80" y2="577.50" stroke="#8a8a8a" stroke-width="0.8" /><text x="589.40" y="580.20" font-size="8.0" text-anchor="end" stroke="#1a1a1a" stroke-width="0.1">10</text><line x1="592.60" y1="602.30" x2="594.80" y2="602.30" stroke="#8a8a8a" stroke-width="0.8" /><text x="589.40" y="605.00" font-size="8.0" text-anchor="end" stroke="#1a1a1a" stroke-width="0.1">0</text><line x1="594.80" y1="602.30" x2="644.50" y2="602.30" stroke="#8a8a8a" stroke-width="0.8" /><rect x="598.80" y="599.80" width="7.50" height="2.50" fill="#d4e2f8" stroke="#3355dd" stroke-width="0.8" /><rect x="606.30" y="593.40" width="7.40" height="8.90" fill="#d4e2f8" stroke="#3355dd" stroke-width="0.8" /><rect x="621.60" y="598.50" width="7.40" height="3.80" fill="#fde1df" stroke="#f04030" stroke-width="0.8" /><rect x="629.00" y="558.20" width="7.10" height="44.10" fill="#fde1df" stroke="#f04030" stroke-width="0.8" /><circle cx="600.05" cy="599.80" r="1.65" fill="#1d3fd6" /><circle cx="602.55" cy="599.80" r="1.65" fill="#1d3fd6" /><circle cx="605.05" cy="599.80" r="1.65" fill="#1d3fd6" /><line x1="602.55" y1="602.30" x2="602.55" y2="604.30" stroke="#8a8a8a" stroke-width="0.8" /><text x="603.95" y="609.00" font-size="8.0" text-anchor="end" stroke="#1a1a1a" stroke-width="0.1" transform="rotate(-45 603.95 609.00)">IgG</text><line x1="610.00" y1="589.50" x2="610.00" y2="596.50" stroke="#3355dd" stroke-width="0.8" /><line x1="608.20" y1="589.50" x2="611.80" y2="589.50" stroke="#3355dd" stroke-width="0.8" /><line x1="608.20" y1="596.50" x2="611.80" y2="596.50" stroke="#3355dd" stroke-width="0.8" /><circle cx="610.30" cy="587.80" r="1.65" fill="#1d3fd6" /><circle cx="610.30" cy="592.40" r="1.65" fill="#1d3fd6" /><circle cx="610.30" cy="595.40" r="1.65" fill="#1d3fd6" /><line x1="610.00" y1="602.30" x2="610.00" y2="604.30" stroke="#8a8a8a" stroke-width="0.8" /><text x="614.75" y="609.00" font-size="8.0" text-anchor="end" stroke="#1a1a1a" stroke-width="0.1" transform="rotate(-45 614.75 609.00)">STAT5</text><circle cx="623.10" cy="599.20" r="1.65" fill="#f2361e" /><circle cx="625.30" cy="598.20" r="1.65" fill="#f2361e" /><circle cx="627.50" cy="598.80" r="1.65" fill="#f2361e" /><line x1="625.30" y1="602.30" x2="625.30" y2="604.30" stroke="#8a8a8a" stroke-width="0.8" /><text x="626.70" y="609.00" font-size="8.0" text-anchor="end" stroke="#1a1a1a" stroke-width="0.1" transform="rotate(-45 626.70 609.00)">IgG</text><line x1="632.55" y1="546.70" x2="632.55" y2="569.50" stroke="#f04030" stroke-width="0.8" /><line x1="630.75" y1="546.70" x2="634.35" y2="546.70" stroke="#f04030" stroke-width="0.8" /><line x1="630.75" y1="569.50" x2="634.35" y2="569.50" stroke="#f04030" stroke-width="0.8" /><circle cx="632.85" cy="537.80" r="1.65" fill="#f2361e" /><circle cx="632.85" cy="557.60" r="1.65" fill="#f2361e" /><circle cx="632.85" cy="578.10" r="1.65" fill="#f2361e" /><line x1="632.55" y1="602.30" x2="632.55" y2="604.30" stroke="#8a8a8a" stroke-width="0.8" /><text x="637.50" y="609.00" font-size="8.0" text-anchor="end" stroke="#1a1a1a" stroke-width="0.1" transform="rotate(-45 637.50 609.00)">STAT5</text><line x1="608.30" y1="524.20" x2="632.20" y2="524.20" stroke="#333" stroke-width="0.9" /><text x="620.25" y="525.70" font-size="9.5" text-anchor="middle" stroke="#1a1a1a" stroke-width="0.1">**</text><rect x="596.60" y="535.00" width="3.60" height="3.60" fill="#d4e2f8" stroke="#3355dd" stroke-width="0.7" /><rect x="596.60" y="543.00" width="3.60" height="3.60" fill="#fde1df" stroke="#f04030" stroke-width="0.7" /><text x="602.90" y="539.60" font-size="8.0" stroke="#1a1a1a" stroke-width="0.1"><tspan font-style="italic">Stat3</tspan><tspan font-size="6.08" dy="-3.84">+/+</tspan></text><text x="602.90" y="547.60" font-size="8.0" stroke="#1a1a1a" stroke-width="0.1"><tspan font-style="italic">Stat3</tspan><tspan font-size="6.08" dy="-3.84">−/−</tspan></text><text x="574.28" y="567.05" font-size="8.0" text-anchor="middle" stroke="#1a1a1a" stroke-width="0.1" transform="rotate(-90 574.28 567.05)">Relative site occupancy</text>
</svg></body></html>
